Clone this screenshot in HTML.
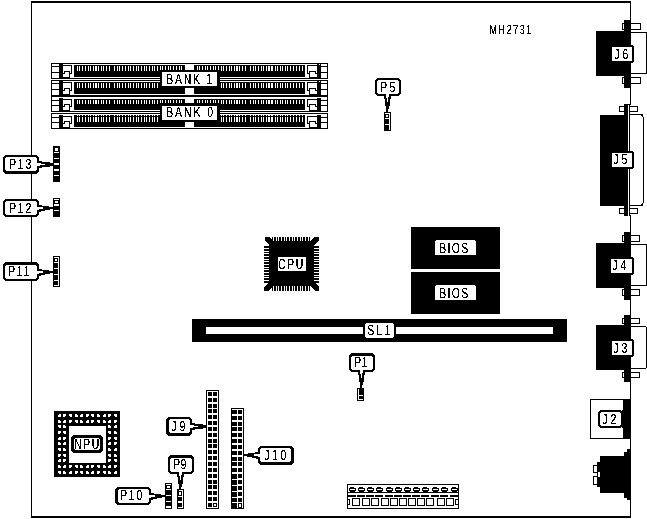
<!DOCTYPE html>
<html><head><meta charset="utf-8"><title>MH2731</title>
<style>html,body{margin:0;padding:0;background:#fff}svg{display:block}text{font-family:"Liberation Sans",sans-serif;fill:#000}</style></head><body>
<svg width="647" height="519" viewBox="0 0 647 519" shape-rendering="crispEdges">
<rect width="647" height="519" fill="#fff"/>
<rect x="31" y="1" width="600" height="2" fill="#000"/>
<rect x="31" y="516" width="600" height="2" fill="#000"/>
<rect x="31" y="1" width="1" height="517" fill="#000"/>
<rect x="630" y="1" width="1" height="517" fill="#000"/>
<rect x="51" y="63" width="277" height="1" fill="#000"/>
<rect x="51" y="78" width="277" height="1" fill="#000"/>
<rect x="51" y="63" width="1" height="16" fill="#000"/>
<rect x="327" y="63" width="1" height="16" fill="#000"/>
<rect x="52" y="66" width="7" height="1" fill="#000"/>
<rect x="52" y="72" width="7" height="1" fill="#000"/>
<rect x="59" y="64" width="4" height="14" fill="#000"/>
<rect x="63" y="65" width="9" height="1" fill="#000"/>
<rect x="71" y="65" width="1" height="9" fill="#000"/>
<rect x="70" y="73" width="2" height="1" fill="#000"/>
<rect x="69" y="71" width="1" height="6" fill="#000"/>
<rect x="64" y="71" width="6" height="1" fill="#000"/>
<rect x="64" y="71" width="1" height="3" fill="#000"/>
<rect x="63" y="73" width="2" height="1" fill="#000"/>
<rect x="63" y="77" width="7" height="1" fill="#000"/>
<rect x="321" y="66" width="6" height="1" fill="#000"/>
<rect x="321" y="72" width="6" height="1" fill="#000"/>
<rect x="317" y="64" width="4" height="14" fill="#000"/>
<rect x="319" y="64" width="1" height="1" fill="#fff"/>
<rect x="307" y="65" width="10" height="1" fill="#000"/>
<rect x="307" y="65" width="1" height="9" fill="#000"/>
<rect x="307" y="73" width="2" height="1" fill="#000"/>
<rect x="309" y="71" width="1" height="6" fill="#000"/>
<rect x="309" y="71" width="7" height="1" fill="#000"/>
<rect x="315" y="71" width="1" height="3" fill="#000"/>
<rect x="315" y="73" width="2" height="1" fill="#000"/>
<rect x="309" y="77" width="8" height="1" fill="#000"/>
<rect x="74" y="65" width="231" height="12" fill="#000"/>
<rect x="77" y="66" width="1" height="5" fill="#fff"/>
<rect x="79" y="66" width="1" height="5" fill="#fff"/>
<rect x="82" y="66" width="1" height="5" fill="#fff"/>
<rect x="85" y="66" width="1" height="5" fill="#fff"/>
<rect x="88" y="66" width="1" height="5" fill="#fff"/>
<rect x="90" y="66" width="1" height="5" fill="#fff"/>
<rect x="93" y="66" width="1" height="5" fill="#fff"/>
<rect x="95" y="66" width="1" height="5" fill="#fff"/>
<rect x="96" y="66" width="1" height="5" fill="#fff"/>
<rect x="98" y="66" width="1" height="5" fill="#fff"/>
<rect x="101" y="66" width="1" height="5" fill="#fff"/>
<rect x="103" y="66" width="1" height="5" fill="#fff"/>
<rect x="106" y="66" width="1" height="5" fill="#fff"/>
<rect x="109" y="66" width="1" height="5" fill="#fff"/>
<rect x="114" y="66" width="1" height="5" fill="#fff"/>
<rect x="117" y="66" width="1" height="5" fill="#fff"/>
<rect x="119" y="66" width="1" height="5" fill="#fff"/>
<rect x="122" y="66" width="1" height="5" fill="#fff"/>
<rect x="125" y="66" width="1" height="5" fill="#fff"/>
<rect x="128" y="66" width="1" height="5" fill="#fff"/>
<rect x="130" y="66" width="1" height="5" fill="#fff"/>
<rect x="133" y="66" width="1" height="5" fill="#fff"/>
<rect x="136" y="66" width="1" height="5" fill="#fff"/>
<rect x="138" y="66" width="1" height="5" fill="#fff"/>
<rect x="141" y="66" width="1" height="5" fill="#fff"/>
<rect x="144" y="66" width="1" height="5" fill="#fff"/>
<rect x="146" y="66" width="1" height="5" fill="#fff"/>
<rect x="149" y="66" width="1" height="5" fill="#fff"/>
<rect x="152" y="66" width="1" height="5" fill="#fff"/>
<rect x="154" y="66" width="1" height="5" fill="#fff"/>
<rect x="157" y="66" width="1" height="5" fill="#fff"/>
<rect x="160" y="66" width="1" height="5" fill="#fff"/>
<rect x="162" y="66" width="1" height="5" fill="#fff"/>
<rect x="165" y="66" width="1" height="5" fill="#fff"/>
<rect x="168" y="66" width="1" height="5" fill="#fff"/>
<rect x="170" y="66" width="1" height="5" fill="#fff"/>
<rect x="173" y="66" width="1" height="5" fill="#fff"/>
<rect x="176" y="66" width="1" height="5" fill="#fff"/>
<rect x="179" y="66" width="1" height="5" fill="#fff"/>
<rect x="181" y="66" width="1" height="5" fill="#fff"/>
<rect x="197" y="66" width="1" height="5" fill="#fff"/>
<rect x="199" y="66" width="1" height="5" fill="#fff"/>
<rect x="202" y="66" width="1" height="5" fill="#fff"/>
<rect x="205" y="66" width="1" height="5" fill="#fff"/>
<rect x="207" y="66" width="1" height="5" fill="#fff"/>
<rect x="210" y="66" width="1" height="5" fill="#fff"/>
<rect x="213" y="66" width="1" height="5" fill="#fff"/>
<rect x="215" y="66" width="1" height="5" fill="#fff"/>
<rect x="218" y="66" width="1" height="5" fill="#fff"/>
<rect x="221" y="66" width="1" height="5" fill="#fff"/>
<rect x="223" y="66" width="1" height="5" fill="#fff"/>
<rect x="226" y="66" width="1" height="5" fill="#fff"/>
<rect x="229" y="66" width="1" height="5" fill="#fff"/>
<rect x="231" y="66" width="1" height="5" fill="#fff"/>
<rect x="234" y="66" width="1" height="5" fill="#fff"/>
<rect x="236" y="66" width="1" height="5" fill="#fff"/>
<rect x="237" y="66" width="1" height="5" fill="#fff"/>
<rect x="239" y="66" width="1" height="5" fill="#fff"/>
<rect x="242" y="66" width="1" height="5" fill="#fff"/>
<rect x="245" y="66" width="1" height="5" fill="#fff"/>
<rect x="250" y="66" width="1" height="5" fill="#fff"/>
<rect x="253" y="66" width="1" height="5" fill="#fff"/>
<rect x="255" y="66" width="1" height="5" fill="#fff"/>
<rect x="258" y="66" width="1" height="5" fill="#fff"/>
<rect x="261" y="66" width="1" height="5" fill="#fff"/>
<rect x="263" y="66" width="1" height="5" fill="#fff"/>
<rect x="266" y="66" width="1" height="5" fill="#fff"/>
<rect x="268" y="66" width="1" height="5" fill="#fff"/>
<rect x="269" y="66" width="1" height="5" fill="#fff"/>
<rect x="271" y="66" width="1" height="5" fill="#fff"/>
<rect x="272" y="66" width="1" height="5" fill="#fff"/>
<rect x="275" y="66" width="1" height="5" fill="#fff"/>
<rect x="277" y="66" width="1" height="5" fill="#fff"/>
<rect x="280" y="66" width="1" height="5" fill="#fff"/>
<rect x="282" y="66" width="1" height="5" fill="#fff"/>
<rect x="285" y="66" width="1" height="5" fill="#fff"/>
<rect x="287" y="66" width="1" height="5" fill="#fff"/>
<rect x="290" y="66" width="1" height="5" fill="#fff"/>
<rect x="293" y="66" width="1" height="5" fill="#fff"/>
<rect x="296" y="66" width="1" height="5" fill="#fff"/>
<rect x="299" y="66" width="1" height="5" fill="#fff"/>
<rect x="302" y="66" width="1" height="5" fill="#fff"/>
<rect x="185" y="64" width="9" height="6" fill="#fff"/>
<rect x="51" y="80" width="277" height="1" fill="#000"/>
<rect x="51" y="95" width="277" height="1" fill="#000"/>
<rect x="51" y="80" width="1" height="16" fill="#000"/>
<rect x="327" y="80" width="1" height="16" fill="#000"/>
<rect x="52" y="83" width="7" height="1" fill="#000"/>
<rect x="52" y="89" width="7" height="1" fill="#000"/>
<rect x="59" y="81" width="4" height="14" fill="#000"/>
<rect x="63" y="82" width="9" height="1" fill="#000"/>
<rect x="71" y="82" width="1" height="9" fill="#000"/>
<rect x="70" y="90" width="2" height="1" fill="#000"/>
<rect x="69" y="88" width="1" height="6" fill="#000"/>
<rect x="64" y="88" width="6" height="1" fill="#000"/>
<rect x="64" y="88" width="1" height="3" fill="#000"/>
<rect x="63" y="90" width="2" height="1" fill="#000"/>
<rect x="63" y="94" width="7" height="1" fill="#000"/>
<rect x="321" y="83" width="6" height="1" fill="#000"/>
<rect x="321" y="89" width="6" height="1" fill="#000"/>
<rect x="317" y="81" width="4" height="14" fill="#000"/>
<rect x="319" y="81" width="1" height="1" fill="#fff"/>
<rect x="307" y="82" width="10" height="1" fill="#000"/>
<rect x="307" y="82" width="1" height="9" fill="#000"/>
<rect x="307" y="90" width="2" height="1" fill="#000"/>
<rect x="309" y="88" width="1" height="6" fill="#000"/>
<rect x="309" y="88" width="7" height="1" fill="#000"/>
<rect x="315" y="88" width="1" height="3" fill="#000"/>
<rect x="315" y="90" width="2" height="1" fill="#000"/>
<rect x="309" y="94" width="8" height="1" fill="#000"/>
<rect x="74" y="82" width="231" height="12" fill="#000"/>
<rect x="77" y="83" width="1" height="5" fill="#fff"/>
<rect x="79" y="83" width="1" height="5" fill="#fff"/>
<rect x="82" y="83" width="1" height="5" fill="#fff"/>
<rect x="85" y="83" width="1" height="5" fill="#fff"/>
<rect x="88" y="83" width="1" height="5" fill="#fff"/>
<rect x="90" y="83" width="1" height="5" fill="#fff"/>
<rect x="93" y="83" width="1" height="5" fill="#fff"/>
<rect x="95" y="83" width="1" height="5" fill="#fff"/>
<rect x="96" y="83" width="1" height="5" fill="#fff"/>
<rect x="98" y="83" width="1" height="5" fill="#fff"/>
<rect x="101" y="83" width="1" height="5" fill="#fff"/>
<rect x="103" y="83" width="1" height="5" fill="#fff"/>
<rect x="106" y="83" width="1" height="5" fill="#fff"/>
<rect x="109" y="83" width="1" height="5" fill="#fff"/>
<rect x="114" y="83" width="1" height="5" fill="#fff"/>
<rect x="117" y="83" width="1" height="5" fill="#fff"/>
<rect x="119" y="83" width="1" height="5" fill="#fff"/>
<rect x="122" y="83" width="1" height="5" fill="#fff"/>
<rect x="125" y="83" width="1" height="5" fill="#fff"/>
<rect x="128" y="83" width="1" height="5" fill="#fff"/>
<rect x="130" y="83" width="1" height="5" fill="#fff"/>
<rect x="133" y="83" width="1" height="5" fill="#fff"/>
<rect x="136" y="83" width="1" height="5" fill="#fff"/>
<rect x="138" y="83" width="1" height="5" fill="#fff"/>
<rect x="141" y="83" width="1" height="5" fill="#fff"/>
<rect x="144" y="83" width="1" height="5" fill="#fff"/>
<rect x="146" y="83" width="1" height="5" fill="#fff"/>
<rect x="149" y="83" width="1" height="5" fill="#fff"/>
<rect x="152" y="83" width="1" height="5" fill="#fff"/>
<rect x="154" y="83" width="1" height="5" fill="#fff"/>
<rect x="157" y="83" width="1" height="5" fill="#fff"/>
<rect x="160" y="83" width="1" height="5" fill="#fff"/>
<rect x="162" y="83" width="1" height="5" fill="#fff"/>
<rect x="165" y="83" width="1" height="5" fill="#fff"/>
<rect x="168" y="83" width="1" height="5" fill="#fff"/>
<rect x="170" y="83" width="1" height="5" fill="#fff"/>
<rect x="173" y="83" width="1" height="5" fill="#fff"/>
<rect x="176" y="83" width="1" height="5" fill="#fff"/>
<rect x="179" y="83" width="1" height="5" fill="#fff"/>
<rect x="181" y="83" width="1" height="5" fill="#fff"/>
<rect x="197" y="83" width="1" height="5" fill="#fff"/>
<rect x="199" y="83" width="1" height="5" fill="#fff"/>
<rect x="202" y="83" width="1" height="5" fill="#fff"/>
<rect x="205" y="83" width="1" height="5" fill="#fff"/>
<rect x="207" y="83" width="1" height="5" fill="#fff"/>
<rect x="210" y="83" width="1" height="5" fill="#fff"/>
<rect x="213" y="83" width="1" height="5" fill="#fff"/>
<rect x="215" y="83" width="1" height="5" fill="#fff"/>
<rect x="218" y="83" width="1" height="5" fill="#fff"/>
<rect x="221" y="83" width="1" height="5" fill="#fff"/>
<rect x="223" y="83" width="1" height="5" fill="#fff"/>
<rect x="226" y="83" width="1" height="5" fill="#fff"/>
<rect x="229" y="83" width="1" height="5" fill="#fff"/>
<rect x="231" y="83" width="1" height="5" fill="#fff"/>
<rect x="234" y="83" width="1" height="5" fill="#fff"/>
<rect x="236" y="83" width="1" height="5" fill="#fff"/>
<rect x="237" y="83" width="1" height="5" fill="#fff"/>
<rect x="239" y="83" width="1" height="5" fill="#fff"/>
<rect x="242" y="83" width="1" height="5" fill="#fff"/>
<rect x="245" y="83" width="1" height="5" fill="#fff"/>
<rect x="250" y="83" width="1" height="5" fill="#fff"/>
<rect x="253" y="83" width="1" height="5" fill="#fff"/>
<rect x="255" y="83" width="1" height="5" fill="#fff"/>
<rect x="258" y="83" width="1" height="5" fill="#fff"/>
<rect x="261" y="83" width="1" height="5" fill="#fff"/>
<rect x="263" y="83" width="1" height="5" fill="#fff"/>
<rect x="266" y="83" width="1" height="5" fill="#fff"/>
<rect x="268" y="83" width="1" height="5" fill="#fff"/>
<rect x="269" y="83" width="1" height="5" fill="#fff"/>
<rect x="271" y="83" width="1" height="5" fill="#fff"/>
<rect x="272" y="83" width="1" height="5" fill="#fff"/>
<rect x="275" y="83" width="1" height="5" fill="#fff"/>
<rect x="277" y="83" width="1" height="5" fill="#fff"/>
<rect x="280" y="83" width="1" height="5" fill="#fff"/>
<rect x="282" y="83" width="1" height="5" fill="#fff"/>
<rect x="285" y="83" width="1" height="5" fill="#fff"/>
<rect x="287" y="83" width="1" height="5" fill="#fff"/>
<rect x="290" y="83" width="1" height="5" fill="#fff"/>
<rect x="293" y="83" width="1" height="5" fill="#fff"/>
<rect x="296" y="83" width="1" height="5" fill="#fff"/>
<rect x="299" y="83" width="1" height="5" fill="#fff"/>
<rect x="302" y="83" width="1" height="5" fill="#fff"/>
<rect x="185" y="88" width="9" height="7" fill="#fff"/>
<rect x="51" y="96" width="277" height="1" fill="#000"/>
<rect x="51" y="111" width="277" height="1" fill="#000"/>
<rect x="51" y="96" width="1" height="16" fill="#000"/>
<rect x="327" y="96" width="1" height="16" fill="#000"/>
<rect x="52" y="100" width="7" height="1" fill="#000"/>
<rect x="52" y="105" width="7" height="1" fill="#000"/>
<rect x="59" y="98" width="4" height="13" fill="#000"/>
<rect x="63" y="99" width="9" height="1" fill="#000"/>
<rect x="71" y="99" width="1" height="8" fill="#000"/>
<rect x="70" y="106" width="2" height="1" fill="#000"/>
<rect x="69" y="104" width="1" height="6" fill="#000"/>
<rect x="64" y="104" width="6" height="1" fill="#000"/>
<rect x="64" y="104" width="1" height="3" fill="#000"/>
<rect x="63" y="106" width="2" height="1" fill="#000"/>
<rect x="63" y="110" width="7" height="1" fill="#000"/>
<rect x="321" y="100" width="6" height="1" fill="#000"/>
<rect x="321" y="105" width="6" height="1" fill="#000"/>
<rect x="317" y="98" width="4" height="13" fill="#000"/>
<rect x="307" y="99" width="10" height="1" fill="#000"/>
<rect x="307" y="99" width="1" height="8" fill="#000"/>
<rect x="307" y="106" width="2" height="1" fill="#000"/>
<rect x="309" y="104" width="1" height="6" fill="#000"/>
<rect x="309" y="104" width="7" height="1" fill="#000"/>
<rect x="315" y="104" width="1" height="3" fill="#000"/>
<rect x="315" y="106" width="2" height="1" fill="#000"/>
<rect x="309" y="110" width="8" height="1" fill="#000"/>
<rect x="74" y="99" width="231" height="11" fill="#000"/>
<rect x="77" y="100" width="1" height="4" fill="#fff"/>
<rect x="79" y="100" width="1" height="4" fill="#fff"/>
<rect x="82" y="100" width="1" height="4" fill="#fff"/>
<rect x="85" y="100" width="1" height="4" fill="#fff"/>
<rect x="88" y="100" width="1" height="4" fill="#fff"/>
<rect x="90" y="100" width="1" height="4" fill="#fff"/>
<rect x="93" y="100" width="1" height="4" fill="#fff"/>
<rect x="95" y="100" width="1" height="4" fill="#fff"/>
<rect x="96" y="100" width="1" height="4" fill="#fff"/>
<rect x="98" y="100" width="1" height="4" fill="#fff"/>
<rect x="101" y="100" width="1" height="4" fill="#fff"/>
<rect x="103" y="100" width="1" height="4" fill="#fff"/>
<rect x="106" y="100" width="1" height="4" fill="#fff"/>
<rect x="109" y="100" width="1" height="4" fill="#fff"/>
<rect x="114" y="100" width="1" height="4" fill="#fff"/>
<rect x="117" y="100" width="1" height="4" fill="#fff"/>
<rect x="119" y="100" width="1" height="4" fill="#fff"/>
<rect x="122" y="100" width="1" height="4" fill="#fff"/>
<rect x="125" y="100" width="1" height="4" fill="#fff"/>
<rect x="128" y="100" width="1" height="4" fill="#fff"/>
<rect x="130" y="100" width="1" height="4" fill="#fff"/>
<rect x="133" y="100" width="1" height="4" fill="#fff"/>
<rect x="136" y="100" width="1" height="4" fill="#fff"/>
<rect x="138" y="100" width="1" height="4" fill="#fff"/>
<rect x="141" y="100" width="1" height="4" fill="#fff"/>
<rect x="144" y="100" width="1" height="4" fill="#fff"/>
<rect x="146" y="100" width="1" height="4" fill="#fff"/>
<rect x="149" y="100" width="1" height="4" fill="#fff"/>
<rect x="152" y="100" width="1" height="4" fill="#fff"/>
<rect x="154" y="100" width="1" height="4" fill="#fff"/>
<rect x="157" y="100" width="1" height="4" fill="#fff"/>
<rect x="160" y="100" width="1" height="4" fill="#fff"/>
<rect x="162" y="100" width="1" height="4" fill="#fff"/>
<rect x="165" y="100" width="1" height="4" fill="#fff"/>
<rect x="168" y="100" width="1" height="4" fill="#fff"/>
<rect x="170" y="100" width="1" height="4" fill="#fff"/>
<rect x="173" y="100" width="1" height="4" fill="#fff"/>
<rect x="176" y="100" width="1" height="4" fill="#fff"/>
<rect x="179" y="100" width="1" height="4" fill="#fff"/>
<rect x="181" y="100" width="1" height="4" fill="#fff"/>
<rect x="197" y="100" width="1" height="4" fill="#fff"/>
<rect x="199" y="100" width="1" height="4" fill="#fff"/>
<rect x="202" y="100" width="1" height="4" fill="#fff"/>
<rect x="205" y="100" width="1" height="4" fill="#fff"/>
<rect x="207" y="100" width="1" height="4" fill="#fff"/>
<rect x="210" y="100" width="1" height="4" fill="#fff"/>
<rect x="213" y="100" width="1" height="4" fill="#fff"/>
<rect x="215" y="100" width="1" height="4" fill="#fff"/>
<rect x="218" y="100" width="1" height="4" fill="#fff"/>
<rect x="221" y="100" width="1" height="4" fill="#fff"/>
<rect x="223" y="100" width="1" height="4" fill="#fff"/>
<rect x="226" y="100" width="1" height="4" fill="#fff"/>
<rect x="229" y="100" width="1" height="4" fill="#fff"/>
<rect x="231" y="100" width="1" height="4" fill="#fff"/>
<rect x="234" y="100" width="1" height="4" fill="#fff"/>
<rect x="236" y="100" width="1" height="4" fill="#fff"/>
<rect x="237" y="100" width="1" height="4" fill="#fff"/>
<rect x="239" y="100" width="1" height="4" fill="#fff"/>
<rect x="242" y="100" width="1" height="4" fill="#fff"/>
<rect x="245" y="100" width="1" height="4" fill="#fff"/>
<rect x="250" y="100" width="1" height="4" fill="#fff"/>
<rect x="253" y="100" width="1" height="4" fill="#fff"/>
<rect x="255" y="100" width="1" height="4" fill="#fff"/>
<rect x="258" y="100" width="1" height="4" fill="#fff"/>
<rect x="261" y="100" width="1" height="4" fill="#fff"/>
<rect x="263" y="100" width="1" height="4" fill="#fff"/>
<rect x="266" y="100" width="1" height="4" fill="#fff"/>
<rect x="268" y="100" width="1" height="4" fill="#fff"/>
<rect x="269" y="100" width="1" height="4" fill="#fff"/>
<rect x="271" y="100" width="1" height="4" fill="#fff"/>
<rect x="272" y="100" width="1" height="4" fill="#fff"/>
<rect x="275" y="100" width="1" height="4" fill="#fff"/>
<rect x="277" y="100" width="1" height="4" fill="#fff"/>
<rect x="280" y="100" width="1" height="4" fill="#fff"/>
<rect x="282" y="100" width="1" height="4" fill="#fff"/>
<rect x="285" y="100" width="1" height="4" fill="#fff"/>
<rect x="287" y="100" width="1" height="4" fill="#fff"/>
<rect x="290" y="100" width="1" height="4" fill="#fff"/>
<rect x="293" y="100" width="1" height="4" fill="#fff"/>
<rect x="296" y="100" width="1" height="4" fill="#fff"/>
<rect x="299" y="100" width="1" height="4" fill="#fff"/>
<rect x="302" y="100" width="1" height="4" fill="#fff"/>
<rect x="185" y="97" width="9" height="6" fill="#fff"/>
<rect x="51" y="113" width="277" height="1" fill="#000"/>
<rect x="51" y="128" width="277" height="1" fill="#000"/>
<rect x="51" y="113" width="1" height="16" fill="#000"/>
<rect x="327" y="113" width="1" height="16" fill="#000"/>
<rect x="52" y="117" width="7" height="1" fill="#000"/>
<rect x="52" y="122" width="7" height="1" fill="#000"/>
<rect x="59" y="115" width="4" height="13" fill="#000"/>
<rect x="63" y="116" width="9" height="1" fill="#000"/>
<rect x="71" y="116" width="1" height="8" fill="#000"/>
<rect x="70" y="123" width="2" height="1" fill="#000"/>
<rect x="69" y="121" width="1" height="6" fill="#000"/>
<rect x="64" y="121" width="6" height="1" fill="#000"/>
<rect x="64" y="121" width="1" height="3" fill="#000"/>
<rect x="63" y="123" width="2" height="1" fill="#000"/>
<rect x="63" y="127" width="7" height="1" fill="#000"/>
<rect x="321" y="117" width="6" height="1" fill="#000"/>
<rect x="321" y="122" width="6" height="1" fill="#000"/>
<rect x="317" y="115" width="4" height="13" fill="#000"/>
<rect x="307" y="116" width="10" height="1" fill="#000"/>
<rect x="307" y="116" width="1" height="8" fill="#000"/>
<rect x="307" y="123" width="2" height="1" fill="#000"/>
<rect x="309" y="121" width="1" height="6" fill="#000"/>
<rect x="309" y="121" width="7" height="1" fill="#000"/>
<rect x="315" y="121" width="1" height="3" fill="#000"/>
<rect x="315" y="123" width="2" height="1" fill="#000"/>
<rect x="309" y="127" width="8" height="1" fill="#000"/>
<rect x="74" y="115" width="231" height="12" fill="#000"/>
<rect x="77" y="117" width="1" height="5" fill="#fff"/>
<rect x="77" y="115" width="1" height="1" fill="#fff"/>
<rect x="79" y="117" width="1" height="5" fill="#fff"/>
<rect x="79" y="115" width="1" height="1" fill="#fff"/>
<rect x="82" y="117" width="1" height="5" fill="#fff"/>
<rect x="82" y="115" width="1" height="1" fill="#fff"/>
<rect x="85" y="117" width="1" height="5" fill="#fff"/>
<rect x="85" y="115" width="1" height="1" fill="#fff"/>
<rect x="88" y="117" width="1" height="5" fill="#fff"/>
<rect x="88" y="115" width="1" height="1" fill="#fff"/>
<rect x="90" y="117" width="1" height="5" fill="#fff"/>
<rect x="90" y="115" width="1" height="1" fill="#fff"/>
<rect x="93" y="117" width="1" height="5" fill="#fff"/>
<rect x="93" y="115" width="1" height="1" fill="#fff"/>
<rect x="95" y="117" width="1" height="5" fill="#fff"/>
<rect x="95" y="115" width="1" height="1" fill="#fff"/>
<rect x="96" y="117" width="1" height="5" fill="#fff"/>
<rect x="96" y="115" width="1" height="1" fill="#fff"/>
<rect x="98" y="117" width="1" height="5" fill="#fff"/>
<rect x="98" y="115" width="1" height="1" fill="#fff"/>
<rect x="101" y="117" width="1" height="5" fill="#fff"/>
<rect x="101" y="115" width="1" height="1" fill="#fff"/>
<rect x="103" y="117" width="1" height="5" fill="#fff"/>
<rect x="103" y="115" width="1" height="1" fill="#fff"/>
<rect x="106" y="117" width="1" height="5" fill="#fff"/>
<rect x="106" y="115" width="1" height="1" fill="#fff"/>
<rect x="109" y="117" width="1" height="5" fill="#fff"/>
<rect x="109" y="115" width="1" height="1" fill="#fff"/>
<rect x="114" y="117" width="1" height="5" fill="#fff"/>
<rect x="114" y="115" width="1" height="1" fill="#fff"/>
<rect x="117" y="117" width="1" height="5" fill="#fff"/>
<rect x="117" y="115" width="1" height="1" fill="#fff"/>
<rect x="119" y="117" width="1" height="5" fill="#fff"/>
<rect x="119" y="115" width="1" height="1" fill="#fff"/>
<rect x="122" y="117" width="1" height="5" fill="#fff"/>
<rect x="122" y="115" width="1" height="1" fill="#fff"/>
<rect x="125" y="117" width="1" height="5" fill="#fff"/>
<rect x="125" y="115" width="1" height="1" fill="#fff"/>
<rect x="128" y="117" width="1" height="5" fill="#fff"/>
<rect x="128" y="115" width="1" height="1" fill="#fff"/>
<rect x="130" y="117" width="1" height="5" fill="#fff"/>
<rect x="130" y="115" width="1" height="1" fill="#fff"/>
<rect x="133" y="117" width="1" height="5" fill="#fff"/>
<rect x="133" y="115" width="1" height="1" fill="#fff"/>
<rect x="136" y="117" width="1" height="5" fill="#fff"/>
<rect x="136" y="115" width="1" height="1" fill="#fff"/>
<rect x="138" y="117" width="1" height="5" fill="#fff"/>
<rect x="138" y="115" width="1" height="1" fill="#fff"/>
<rect x="141" y="117" width="1" height="5" fill="#fff"/>
<rect x="141" y="115" width="1" height="1" fill="#fff"/>
<rect x="144" y="117" width="1" height="5" fill="#fff"/>
<rect x="144" y="115" width="1" height="1" fill="#fff"/>
<rect x="146" y="117" width="1" height="5" fill="#fff"/>
<rect x="146" y="115" width="1" height="1" fill="#fff"/>
<rect x="149" y="117" width="1" height="5" fill="#fff"/>
<rect x="149" y="115" width="1" height="1" fill="#fff"/>
<rect x="152" y="117" width="1" height="5" fill="#fff"/>
<rect x="152" y="115" width="1" height="1" fill="#fff"/>
<rect x="154" y="117" width="1" height="5" fill="#fff"/>
<rect x="154" y="115" width="1" height="1" fill="#fff"/>
<rect x="157" y="117" width="1" height="5" fill="#fff"/>
<rect x="157" y="115" width="1" height="1" fill="#fff"/>
<rect x="160" y="117" width="1" height="5" fill="#fff"/>
<rect x="160" y="115" width="1" height="1" fill="#fff"/>
<rect x="162" y="117" width="1" height="5" fill="#fff"/>
<rect x="162" y="115" width="1" height="1" fill="#fff"/>
<rect x="165" y="117" width="1" height="5" fill="#fff"/>
<rect x="165" y="115" width="1" height="1" fill="#fff"/>
<rect x="168" y="117" width="1" height="5" fill="#fff"/>
<rect x="168" y="115" width="1" height="1" fill="#fff"/>
<rect x="170" y="117" width="1" height="5" fill="#fff"/>
<rect x="170" y="115" width="1" height="1" fill="#fff"/>
<rect x="173" y="117" width="1" height="5" fill="#fff"/>
<rect x="173" y="115" width="1" height="1" fill="#fff"/>
<rect x="176" y="117" width="1" height="5" fill="#fff"/>
<rect x="176" y="115" width="1" height="1" fill="#fff"/>
<rect x="179" y="117" width="1" height="5" fill="#fff"/>
<rect x="179" y="115" width="1" height="1" fill="#fff"/>
<rect x="181" y="117" width="1" height="5" fill="#fff"/>
<rect x="181" y="115" width="1" height="1" fill="#fff"/>
<rect x="197" y="117" width="1" height="5" fill="#fff"/>
<rect x="197" y="115" width="1" height="1" fill="#fff"/>
<rect x="199" y="117" width="1" height="5" fill="#fff"/>
<rect x="199" y="115" width="1" height="1" fill="#fff"/>
<rect x="202" y="117" width="1" height="5" fill="#fff"/>
<rect x="202" y="115" width="1" height="1" fill="#fff"/>
<rect x="205" y="117" width="1" height="5" fill="#fff"/>
<rect x="205" y="115" width="1" height="1" fill="#fff"/>
<rect x="207" y="117" width="1" height="5" fill="#fff"/>
<rect x="207" y="115" width="1" height="1" fill="#fff"/>
<rect x="210" y="117" width="1" height="5" fill="#fff"/>
<rect x="210" y="115" width="1" height="1" fill="#fff"/>
<rect x="213" y="117" width="1" height="5" fill="#fff"/>
<rect x="213" y="115" width="1" height="1" fill="#fff"/>
<rect x="215" y="117" width="1" height="5" fill="#fff"/>
<rect x="215" y="115" width="1" height="1" fill="#fff"/>
<rect x="218" y="117" width="1" height="5" fill="#fff"/>
<rect x="218" y="115" width="1" height="1" fill="#fff"/>
<rect x="221" y="117" width="1" height="5" fill="#fff"/>
<rect x="221" y="115" width="1" height="1" fill="#fff"/>
<rect x="223" y="117" width="1" height="5" fill="#fff"/>
<rect x="223" y="115" width="1" height="1" fill="#fff"/>
<rect x="226" y="117" width="1" height="5" fill="#fff"/>
<rect x="226" y="115" width="1" height="1" fill="#fff"/>
<rect x="229" y="117" width="1" height="5" fill="#fff"/>
<rect x="229" y="115" width="1" height="1" fill="#fff"/>
<rect x="231" y="117" width="1" height="5" fill="#fff"/>
<rect x="231" y="115" width="1" height="1" fill="#fff"/>
<rect x="234" y="117" width="1" height="5" fill="#fff"/>
<rect x="234" y="115" width="1" height="1" fill="#fff"/>
<rect x="236" y="117" width="1" height="5" fill="#fff"/>
<rect x="236" y="115" width="1" height="1" fill="#fff"/>
<rect x="237" y="117" width="1" height="5" fill="#fff"/>
<rect x="237" y="115" width="1" height="1" fill="#fff"/>
<rect x="239" y="117" width="1" height="5" fill="#fff"/>
<rect x="239" y="115" width="1" height="1" fill="#fff"/>
<rect x="242" y="117" width="1" height="5" fill="#fff"/>
<rect x="242" y="115" width="1" height="1" fill="#fff"/>
<rect x="245" y="117" width="1" height="5" fill="#fff"/>
<rect x="245" y="115" width="1" height="1" fill="#fff"/>
<rect x="250" y="117" width="1" height="5" fill="#fff"/>
<rect x="250" y="115" width="1" height="1" fill="#fff"/>
<rect x="253" y="117" width="1" height="5" fill="#fff"/>
<rect x="253" y="115" width="1" height="1" fill="#fff"/>
<rect x="255" y="117" width="1" height="5" fill="#fff"/>
<rect x="255" y="115" width="1" height="1" fill="#fff"/>
<rect x="258" y="117" width="1" height="5" fill="#fff"/>
<rect x="258" y="115" width="1" height="1" fill="#fff"/>
<rect x="261" y="117" width="1" height="5" fill="#fff"/>
<rect x="261" y="115" width="1" height="1" fill="#fff"/>
<rect x="263" y="117" width="1" height="5" fill="#fff"/>
<rect x="263" y="115" width="1" height="1" fill="#fff"/>
<rect x="266" y="117" width="1" height="5" fill="#fff"/>
<rect x="266" y="115" width="1" height="1" fill="#fff"/>
<rect x="268" y="117" width="1" height="5" fill="#fff"/>
<rect x="268" y="115" width="1" height="1" fill="#fff"/>
<rect x="269" y="117" width="1" height="5" fill="#fff"/>
<rect x="269" y="115" width="1" height="1" fill="#fff"/>
<rect x="271" y="117" width="1" height="5" fill="#fff"/>
<rect x="271" y="115" width="1" height="1" fill="#fff"/>
<rect x="272" y="117" width="1" height="5" fill="#fff"/>
<rect x="272" y="115" width="1" height="1" fill="#fff"/>
<rect x="275" y="117" width="1" height="5" fill="#fff"/>
<rect x="275" y="115" width="1" height="1" fill="#fff"/>
<rect x="277" y="117" width="1" height="5" fill="#fff"/>
<rect x="277" y="115" width="1" height="1" fill="#fff"/>
<rect x="280" y="117" width="1" height="5" fill="#fff"/>
<rect x="280" y="115" width="1" height="1" fill="#fff"/>
<rect x="282" y="117" width="1" height="5" fill="#fff"/>
<rect x="282" y="115" width="1" height="1" fill="#fff"/>
<rect x="285" y="117" width="1" height="5" fill="#fff"/>
<rect x="285" y="115" width="1" height="1" fill="#fff"/>
<rect x="287" y="117" width="1" height="5" fill="#fff"/>
<rect x="287" y="115" width="1" height="1" fill="#fff"/>
<rect x="290" y="117" width="1" height="5" fill="#fff"/>
<rect x="290" y="115" width="1" height="1" fill="#fff"/>
<rect x="293" y="117" width="1" height="5" fill="#fff"/>
<rect x="293" y="115" width="1" height="1" fill="#fff"/>
<rect x="296" y="117" width="1" height="5" fill="#fff"/>
<rect x="296" y="115" width="1" height="1" fill="#fff"/>
<rect x="299" y="117" width="1" height="5" fill="#fff"/>
<rect x="299" y="115" width="1" height="1" fill="#fff"/>
<rect x="302" y="117" width="1" height="5" fill="#fff"/>
<rect x="302" y="115" width="1" height="1" fill="#fff"/>
<rect x="185" y="121" width="9" height="7" fill="#fff"/>
<rect x="160" y="70" width="60" height="18" fill="#000"/>
<rect x="162" y="72" width="55" height="14" fill="#fff"/>
<rect x="160" y="103" width="60" height="19" fill="#000"/>
<rect x="162" y="106" width="55" height="14" fill="#fff"/>
<rect x="3" y="155" width="36" height="19" fill="#000"/>
<rect x="5" y="157" width="32" height="14" fill="#fff"/>
<rect x="3" y="155" width="2" height="1" fill="#fff"/>
<rect x="3" y="155" width="1" height="2" fill="#fff"/>
<rect x="37" y="155" width="2" height="1" fill="#fff"/>
<rect x="38" y="155" width="1" height="2" fill="#fff"/>
<rect x="3" y="173" width="2" height="1" fill="#fff"/>
<rect x="3" y="172" width="1" height="2" fill="#fff"/>
<rect x="37" y="173" width="2" height="1" fill="#fff"/>
<rect x="38" y="172" width="1" height="2" fill="#fff"/>
<rect x="5" y="157" width="1" height="1" fill="#000"/>
<rect x="36" y="157" width="1" height="1" fill="#000"/>
<rect x="5" y="170" width="1" height="1" fill="#000"/>
<rect x="36" y="170" width="1" height="1" fill="#000"/>
<rect x="37" y="161" width="5" height="1" fill="#000"/>
<rect x="37" y="162" width="13" height="1" fill="#000"/>
<rect x="37" y="163" width="4" height="1" fill="#fff"/>
<rect x="41" y="163" width="12" height="1" fill="#000"/>
<rect x="37" y="164" width="8" height="1" fill="#fff"/>
<rect x="45" y="164" width="8" height="1" fill="#000"/>
<rect x="37" y="165" width="3" height="1" fill="#fff"/>
<rect x="40" y="165" width="13" height="1" fill="#000"/>
<rect x="37" y="166" width="13" height="1" fill="#000"/>
<rect x="37" y="167" width="5" height="1" fill="#000"/>
<rect x="53" y="146" width="7" height="36" fill="#000"/>
<rect x="55" y="148" width="3" height="3" fill="#fff"/>
<rect x="54" y="152" width="5" height="1" fill="#fff"/>
<rect x="54" y="158" width="5" height="1" fill="#fff"/>
<rect x="54" y="163" width="5" height="2" fill="#fff"/>
<rect x="54" y="169" width="5" height="2" fill="#fff"/>
<rect x="54" y="175" width="5" height="1" fill="#fff"/>
<rect x="3" y="199" width="36" height="18" fill="#000"/>
<rect x="5" y="201" width="32" height="14" fill="#fff"/>
<rect x="3" y="199" width="2" height="1" fill="#fff"/>
<rect x="3" y="199" width="1" height="2" fill="#fff"/>
<rect x="37" y="199" width="2" height="1" fill="#fff"/>
<rect x="38" y="199" width="1" height="2" fill="#fff"/>
<rect x="3" y="216" width="2" height="1" fill="#fff"/>
<rect x="3" y="215" width="1" height="2" fill="#fff"/>
<rect x="37" y="216" width="2" height="1" fill="#fff"/>
<rect x="38" y="215" width="1" height="2" fill="#fff"/>
<rect x="5" y="201" width="1" height="1" fill="#000"/>
<rect x="36" y="201" width="1" height="1" fill="#000"/>
<rect x="5" y="214" width="1" height="1" fill="#000"/>
<rect x="36" y="214" width="1" height="1" fill="#000"/>
<rect x="37" y="205" width="5" height="1" fill="#000"/>
<rect x="37" y="206" width="12" height="1" fill="#000"/>
<rect x="37" y="207" width="6" height="1" fill="#fff"/>
<rect x="43" y="207" width="10" height="1" fill="#000"/>
<rect x="37" y="208" width="6" height="1" fill="#fff"/>
<rect x="43" y="208" width="10" height="1" fill="#000"/>
<rect x="37" y="209" width="2" height="1" fill="#fff"/>
<rect x="39" y="209" width="11" height="1" fill="#000"/>
<rect x="37" y="210" width="8" height="1" fill="#000"/>
<rect x="37" y="211" width="4" height="1" fill="#000"/>
<rect x="53" y="198" width="7" height="19" fill="#000"/>
<rect x="54" y="199" width="5" height="1" fill="#fff"/>
<rect x="55" y="201" width="3" height="2" fill="#fff"/>
<rect x="54" y="204" width="5" height="2" fill="#fff"/>
<rect x="54" y="210" width="5" height="1" fill="#fff"/>
<rect x="3" y="262" width="36" height="19" fill="#000"/>
<rect x="5" y="265" width="32" height="14" fill="#fff"/>
<rect x="3" y="262" width="2" height="1" fill="#fff"/>
<rect x="3" y="262" width="1" height="2" fill="#fff"/>
<rect x="37" y="262" width="2" height="1" fill="#fff"/>
<rect x="38" y="262" width="1" height="2" fill="#fff"/>
<rect x="3" y="280" width="2" height="1" fill="#fff"/>
<rect x="3" y="279" width="1" height="2" fill="#fff"/>
<rect x="37" y="280" width="2" height="1" fill="#fff"/>
<rect x="38" y="279" width="1" height="2" fill="#fff"/>
<rect x="5" y="265" width="1" height="1" fill="#000"/>
<rect x="36" y="265" width="1" height="1" fill="#000"/>
<rect x="5" y="278" width="1" height="1" fill="#000"/>
<rect x="36" y="278" width="1" height="1" fill="#000"/>
<rect x="37" y="269" width="5" height="1" fill="#000"/>
<rect x="37" y="270" width="12" height="1" fill="#000"/>
<rect x="37" y="271" width="6" height="1" fill="#fff"/>
<rect x="43" y="271" width="10" height="1" fill="#000"/>
<rect x="37" y="272" width="6" height="1" fill="#fff"/>
<rect x="43" y="272" width="10" height="1" fill="#000"/>
<rect x="37" y="273" width="2" height="1" fill="#fff"/>
<rect x="39" y="273" width="11" height="1" fill="#000"/>
<rect x="37" y="274" width="8" height="1" fill="#000"/>
<rect x="37" y="275" width="4" height="1" fill="#000"/>
<rect x="53" y="256" width="7" height="1" fill="#000"/>
<rect x="53" y="286" width="7" height="1" fill="#000"/>
<rect x="53" y="256" width="1" height="31" fill="#000"/>
<rect x="59" y="256" width="1" height="31" fill="#000"/>
<rect x="54" y="258" width="4" height="4" fill="#000"/>
<rect x="55" y="259" width="2" height="2" fill="#fff"/>
<rect x="54" y="263" width="4" height="5" fill="#000"/>
<rect x="54" y="269" width="4" height="5" fill="#000"/>
<rect x="54" y="275" width="4" height="5" fill="#000"/>
<rect x="54" y="281" width="4" height="4" fill="#000"/>
<rect x="375" y="78" width="26" height="18" fill="#000"/>
<rect x="377" y="80" width="22" height="14" fill="#fff"/>
<rect x="375" y="78" width="2" height="1" fill="#fff"/>
<rect x="375" y="78" width="1" height="2" fill="#fff"/>
<rect x="399" y="78" width="2" height="1" fill="#fff"/>
<rect x="400" y="78" width="1" height="2" fill="#fff"/>
<rect x="375" y="95" width="2" height="1" fill="#fff"/>
<rect x="375" y="94" width="1" height="2" fill="#fff"/>
<rect x="399" y="95" width="2" height="1" fill="#fff"/>
<rect x="400" y="94" width="1" height="2" fill="#fff"/>
<rect x="377" y="80" width="1" height="1" fill="#000"/>
<rect x="398" y="80" width="1" height="1" fill="#000"/>
<rect x="377" y="93" width="1" height="1" fill="#000"/>
<rect x="398" y="93" width="1" height="1" fill="#000"/>
<rect x="384" y="94" width="1" height="5" fill="#000"/>
<rect x="385" y="94" width="1" height="12" fill="#000"/>
<rect x="386" y="94" width="1" height="4" fill="#fff"/>
<rect x="386" y="98" width="1" height="14" fill="#000"/>
<rect x="387" y="94" width="1" height="8" fill="#fff"/>
<rect x="387" y="102" width="1" height="10" fill="#000"/>
<rect x="388" y="94" width="1" height="3" fill="#fff"/>
<rect x="388" y="97" width="1" height="12" fill="#000"/>
<rect x="389" y="94" width="1" height="12" fill="#000"/>
<rect x="390" y="94" width="1" height="5" fill="#000"/>
<rect x="384" y="112" width="7" height="1" fill="#000"/>
<rect x="384" y="130" width="7" height="1" fill="#000"/>
<rect x="384" y="112" width="1" height="19" fill="#000"/>
<rect x="390" y="112" width="1" height="19" fill="#000"/>
<rect x="385" y="114" width="4" height="4" fill="#000"/>
<rect x="386" y="115" width="2" height="2" fill="#fff"/>
<rect x="385" y="119" width="4" height="5" fill="#000"/>
<rect x="385" y="125" width="4" height="5" fill="#000"/>
<rect x="596" y="31" width="35" height="45" fill="#000"/>
<rect x="624" y="20" width="7" height="11" fill="#000"/>
<rect x="624" y="76" width="7" height="12" fill="#000"/>
<rect x="622" y="23" width="19" height="1" fill="#000"/>
<rect x="622" y="29" width="19" height="1" fill="#000"/>
<rect x="622" y="23" width="1" height="7" fill="#000"/>
<rect x="640" y="23" width="1" height="7" fill="#000"/>
<rect x="623" y="24" width="1" height="5" fill="#fff"/>
<rect x="624" y="23" width="7" height="7" fill="#000"/>
<rect x="622" y="77" width="19" height="1" fill="#000"/>
<rect x="622" y="83" width="19" height="1" fill="#000"/>
<rect x="622" y="77" width="1" height="7" fill="#000"/>
<rect x="640" y="77" width="1" height="7" fill="#000"/>
<rect x="623" y="78" width="1" height="5" fill="#fff"/>
<rect x="624" y="77" width="7" height="7" fill="#000"/>
<rect x="631" y="32" width="16" height="1" fill="#000"/>
<rect x="631" y="73" width="16" height="1" fill="#000"/>
<rect x="646" y="32" width="1" height="42" fill="#000"/>
<rect x="610" y="45" width="24" height="18" fill="#000"/>
<rect x="612" y="47" width="20" height="14" fill="#fff"/>
<rect x="633" y="45" width="1" height="1" fill="#fff"/>
<rect x="633" y="62" width="1" height="1" fill="#fff"/>
<rect x="596" y="243" width="35" height="45" fill="#000"/>
<rect x="624" y="232" width="7" height="11" fill="#000"/>
<rect x="624" y="288" width="7" height="12" fill="#000"/>
<rect x="622" y="235" width="18" height="1" fill="#000"/>
<rect x="622" y="241" width="18" height="1" fill="#000"/>
<rect x="622" y="235" width="1" height="7" fill="#000"/>
<rect x="639" y="235" width="1" height="7" fill="#000"/>
<rect x="623" y="236" width="1" height="5" fill="#fff"/>
<rect x="624" y="235" width="7" height="7" fill="#000"/>
<rect x="622" y="289" width="18" height="1" fill="#000"/>
<rect x="622" y="295" width="18" height="1" fill="#000"/>
<rect x="622" y="289" width="1" height="7" fill="#000"/>
<rect x="639" y="289" width="1" height="7" fill="#000"/>
<rect x="623" y="290" width="1" height="5" fill="#fff"/>
<rect x="624" y="289" width="7" height="7" fill="#000"/>
<rect x="631" y="244" width="16" height="1" fill="#000"/>
<rect x="631" y="285" width="16" height="1" fill="#000"/>
<rect x="646" y="244" width="1" height="42" fill="#000"/>
<rect x="610" y="257" width="24" height="18" fill="#000"/>
<rect x="612" y="259" width="20" height="14" fill="#fff"/>
<rect x="633" y="257" width="1" height="1" fill="#fff"/>
<rect x="633" y="274" width="1" height="1" fill="#fff"/>
<rect x="611" y="259" width="1" height="14" fill="#fff"/>
<rect x="596" y="325" width="35" height="45" fill="#000"/>
<rect x="624" y="315" width="7" height="10" fill="#000"/>
<rect x="624" y="370" width="7" height="12" fill="#000"/>
<rect x="622" y="318" width="18" height="1" fill="#000"/>
<rect x="622" y="323" width="18" height="1" fill="#000"/>
<rect x="622" y="318" width="1" height="6" fill="#000"/>
<rect x="639" y="318" width="1" height="6" fill="#000"/>
<rect x="623" y="319" width="1" height="4" fill="#fff"/>
<rect x="624" y="318" width="7" height="6" fill="#000"/>
<rect x="622" y="372" width="18" height="1" fill="#000"/>
<rect x="622" y="377" width="18" height="1" fill="#000"/>
<rect x="622" y="372" width="1" height="6" fill="#000"/>
<rect x="639" y="372" width="1" height="6" fill="#000"/>
<rect x="623" y="373" width="1" height="4" fill="#fff"/>
<rect x="624" y="372" width="7" height="6" fill="#000"/>
<rect x="631" y="326" width="15" height="1" fill="#000"/>
<rect x="631" y="368" width="15" height="1" fill="#000"/>
<rect x="646" y="327" width="1" height="41" fill="#000"/>
<rect x="610" y="339" width="24" height="18" fill="#000"/>
<rect x="612" y="341" width="20" height="14" fill="#fff"/>
<rect x="633" y="339" width="1" height="1" fill="#fff"/>
<rect x="633" y="356" width="1" height="1" fill="#fff"/>
<rect x="600" y="115" width="28" height="91" fill="#000"/>
<rect x="624" y="104" width="4" height="112" fill="#000"/>
<rect x="624" y="104" width="6" height="1" fill="#000"/>
<rect x="629" y="104" width="1" height="112" fill="#000"/>
<rect x="630" y="105" width="1" height="110" fill="#fff"/>
<rect x="619" y="106" width="19" height="1" fill="#000"/>
<rect x="619" y="111" width="19" height="1" fill="#000"/>
<rect x="619" y="106" width="1" height="6" fill="#000"/>
<rect x="637" y="106" width="1" height="6" fill="#000"/>
<rect x="624" y="106" width="4" height="6" fill="#000"/>
<rect x="628" y="106" width="1" height="6" fill="#fff"/>
<rect x="629" y="106" width="1" height="6" fill="#000"/>
<rect x="630" y="107" width="1" height="4" fill="#fff"/>
<rect x="619" y="208" width="19" height="1" fill="#000"/>
<rect x="619" y="213" width="19" height="1" fill="#000"/>
<rect x="619" y="208" width="1" height="6" fill="#000"/>
<rect x="637" y="208" width="1" height="6" fill="#000"/>
<rect x="624" y="208" width="4" height="6" fill="#000"/>
<rect x="628" y="208" width="1" height="6" fill="#fff"/>
<rect x="629" y="208" width="1" height="6" fill="#000"/>
<rect x="630" y="209" width="1" height="4" fill="#fff"/>
<rect x="630" y="106" width="1" height="1" fill="#000"/>
<rect x="630" y="111" width="1" height="1" fill="#000"/>
<rect x="630" y="208" width="1" height="1" fill="#000"/>
<rect x="630" y="213" width="1" height="1" fill="#000"/>
<rect x="630" y="114" width="12" height="1" fill="#000"/>
<rect x="630" y="205" width="12" height="1" fill="#000"/>
<rect x="643" y="117" width="1" height="86" fill="#000"/>
<rect x="642" y="115" width="1" height="2" fill="#000"/>
<rect x="642" y="203" width="1" height="2" fill="#000"/>
<rect x="641" y="114" width="2" height="2" fill="#000"/>
<rect x="641" y="204" width="2" height="2" fill="#000"/>
<rect x="610" y="151" width="24" height="18" fill="#000"/>
<rect x="612" y="153" width="20" height="14" fill="#fff"/>
<rect x="633" y="151" width="1" height="1" fill="#fff"/>
<rect x="633" y="168" width="1" height="1" fill="#fff"/>
<rect x="590" y="399" width="41" height="1" fill="#000"/>
<rect x="590" y="438" width="41" height="1" fill="#000"/>
<rect x="590" y="399" width="1" height="40" fill="#000"/>
<rect x="630" y="399" width="1" height="40" fill="#000"/>
<rect x="623" y="399" width="8" height="40" fill="#000"/>
<rect x="598" y="410" width="25" height="18" fill="#000"/>
<rect x="600" y="412" width="21" height="14" fill="#fff"/>
<rect x="598" y="410" width="2" height="1" fill="#fff"/>
<rect x="598" y="410" width="1" height="2" fill="#fff"/>
<rect x="621" y="410" width="2" height="1" fill="#fff"/>
<rect x="622" y="410" width="1" height="2" fill="#fff"/>
<rect x="598" y="427" width="2" height="1" fill="#fff"/>
<rect x="598" y="426" width="1" height="2" fill="#fff"/>
<rect x="621" y="427" width="2" height="1" fill="#fff"/>
<rect x="622" y="426" width="1" height="2" fill="#fff"/>
<rect x="600" y="412" width="1" height="1" fill="#000"/>
<rect x="620" y="412" width="1" height="1" fill="#000"/>
<rect x="600" y="425" width="1" height="1" fill="#000"/>
<rect x="620" y="425" width="1" height="1" fill="#000"/>
<rect x="622" y="410" width="1" height="18" fill="#000"/>
<rect x="600" y="456" width="31" height="37" fill="#000"/>
<rect x="624" y="452" width="7" height="46" fill="#000"/>
<rect x="627" y="449" width="4" height="51" fill="#000"/>
<rect x="597" y="462" width="3" height="25" fill="#000"/>
<rect x="593" y="465" width="5" height="1" fill="#000"/>
<rect x="593" y="472" width="5" height="1" fill="#000"/>
<rect x="593" y="465" width="1" height="8" fill="#000"/>
<rect x="597" y="465" width="1" height="8" fill="#000"/>
<rect x="593" y="476" width="5" height="1" fill="#000"/>
<rect x="593" y="484" width="5" height="1" fill="#000"/>
<rect x="593" y="476" width="1" height="9" fill="#000"/>
<rect x="597" y="476" width="1" height="9" fill="#000"/>
<rect x="598" y="472" width="2" height="5" fill="#fff"/>
<rect x="269" y="241" width="45" height="45" fill="#000"/>
<rect x="272" y="237" width="39" height="4" fill="#000"/>
<rect x="272" y="286" width="39" height="5" fill="#000"/>
<rect x="273" y="237" width="1" height="4" fill="#fff"/>
<rect x="273" y="286" width="1" height="5" fill="#fff"/>
<rect x="276" y="237" width="1" height="4" fill="#fff"/>
<rect x="276" y="286" width="1" height="5" fill="#fff"/>
<rect x="278" y="237" width="1" height="4" fill="#fff"/>
<rect x="278" y="286" width="1" height="5" fill="#fff"/>
<rect x="281" y="237" width="1" height="4" fill="#fff"/>
<rect x="281" y="286" width="1" height="5" fill="#fff"/>
<rect x="284" y="237" width="1" height="4" fill="#fff"/>
<rect x="284" y="286" width="1" height="5" fill="#fff"/>
<rect x="286" y="237" width="1" height="4" fill="#fff"/>
<rect x="286" y="286" width="1" height="5" fill="#fff"/>
<rect x="289" y="237" width="1" height="4" fill="#fff"/>
<rect x="289" y="286" width="1" height="5" fill="#fff"/>
<rect x="292" y="237" width="1" height="4" fill="#fff"/>
<rect x="292" y="286" width="1" height="5" fill="#fff"/>
<rect x="294" y="237" width="1" height="4" fill="#fff"/>
<rect x="294" y="286" width="1" height="5" fill="#fff"/>
<rect x="297" y="237" width="1" height="4" fill="#fff"/>
<rect x="297" y="286" width="1" height="5" fill="#fff"/>
<rect x="300" y="237" width="1" height="4" fill="#fff"/>
<rect x="300" y="286" width="1" height="5" fill="#fff"/>
<rect x="302" y="237" width="1" height="4" fill="#fff"/>
<rect x="302" y="286" width="1" height="5" fill="#fff"/>
<rect x="305" y="237" width="1" height="4" fill="#fff"/>
<rect x="305" y="286" width="1" height="5" fill="#fff"/>
<rect x="308" y="237" width="1" height="4" fill="#fff"/>
<rect x="308" y="286" width="1" height="5" fill="#fff"/>
<rect x="310" y="237" width="1" height="4" fill="#fff"/>
<rect x="310" y="286" width="1" height="5" fill="#fff"/>
<rect x="264" y="246" width="5" height="37" fill="#000"/>
<rect x="314" y="246" width="5" height="37" fill="#000"/>
<rect x="264" y="248" width="5" height="1" fill="#fff"/>
<rect x="314" y="248" width="5" height="1" fill="#fff"/>
<rect x="264" y="251" width="5" height="1" fill="#fff"/>
<rect x="314" y="251" width="5" height="1" fill="#fff"/>
<rect x="264" y="253" width="5" height="1" fill="#fff"/>
<rect x="314" y="253" width="5" height="1" fill="#fff"/>
<rect x="264" y="256" width="5" height="1" fill="#fff"/>
<rect x="314" y="256" width="5" height="1" fill="#fff"/>
<rect x="264" y="259" width="5" height="1" fill="#fff"/>
<rect x="314" y="259" width="5" height="1" fill="#fff"/>
<rect x="264" y="261" width="5" height="1" fill="#fff"/>
<rect x="314" y="261" width="5" height="1" fill="#fff"/>
<rect x="264" y="264" width="5" height="1" fill="#fff"/>
<rect x="314" y="264" width="5" height="1" fill="#fff"/>
<rect x="264" y="267" width="5" height="1" fill="#fff"/>
<rect x="314" y="267" width="5" height="1" fill="#fff"/>
<rect x="264" y="269" width="5" height="1" fill="#fff"/>
<rect x="314" y="269" width="5" height="1" fill="#fff"/>
<rect x="264" y="272" width="5" height="1" fill="#fff"/>
<rect x="314" y="272" width="5" height="1" fill="#fff"/>
<rect x="264" y="275" width="5" height="1" fill="#fff"/>
<rect x="314" y="275" width="5" height="1" fill="#fff"/>
<rect x="264" y="277" width="5" height="1" fill="#fff"/>
<rect x="314" y="277" width="5" height="1" fill="#fff"/>
<rect x="264" y="280" width="5" height="1" fill="#fff"/>
<rect x="314" y="280" width="5" height="1" fill="#fff"/>
<rect x="264" y="283" width="5" height="1" fill="#fff"/>
<rect x="314" y="283" width="5" height="1" fill="#fff"/>
<rect x="278" y="257" width="28" height="14" fill="#fff"/>
<rect x="411" y="227" width="89" height="42" fill="#000"/>
<rect x="411" y="272" width="89" height="42" fill="#000"/>
<rect x="435" y="240" width="41" height="15" fill="#fff"/>
<rect x="435" y="240" width="1" height="1" fill="#000"/>
<rect x="475" y="240" width="1" height="1" fill="#000"/>
<rect x="435" y="285" width="41" height="15" fill="#fff"/>
<rect x="435" y="285" width="1" height="1" fill="#000"/>
<rect x="475" y="285" width="1" height="1" fill="#000"/>
<rect x="192" y="319" width="375" height="23" fill="#000"/>
<rect x="206" y="327" width="347" height="7" fill="#fff"/>
<rect x="363" y="321" width="33" height="19" fill="#000"/>
<rect x="365" y="323" width="29" height="15" fill="#fff"/>
<rect x="365" y="323" width="1" height="1" fill="#000"/>
<rect x="393" y="323" width="1" height="1" fill="#000"/>
<rect x="365" y="337" width="1" height="1" fill="#000"/>
<rect x="393" y="337" width="1" height="1" fill="#000"/>
<rect x="349" y="353" width="26" height="19" fill="#000"/>
<rect x="351" y="356" width="22" height="14" fill="#fff"/>
<rect x="349" y="353" width="2" height="1" fill="#fff"/>
<rect x="349" y="353" width="1" height="2" fill="#fff"/>
<rect x="373" y="353" width="2" height="1" fill="#fff"/>
<rect x="374" y="353" width="1" height="2" fill="#fff"/>
<rect x="349" y="371" width="2" height="1" fill="#fff"/>
<rect x="349" y="370" width="1" height="2" fill="#fff"/>
<rect x="373" y="371" width="2" height="1" fill="#fff"/>
<rect x="374" y="370" width="1" height="2" fill="#fff"/>
<rect x="351" y="356" width="1" height="1" fill="#000"/>
<rect x="372" y="356" width="1" height="1" fill="#000"/>
<rect x="351" y="369" width="1" height="1" fill="#000"/>
<rect x="372" y="369" width="1" height="1" fill="#000"/>
<rect x="358" y="370" width="1" height="5" fill="#000"/>
<rect x="359" y="370" width="1" height="12" fill="#000"/>
<rect x="360" y="370" width="1" height="4" fill="#fff"/>
<rect x="360" y="374" width="1" height="14" fill="#000"/>
<rect x="361" y="370" width="1" height="8" fill="#fff"/>
<rect x="361" y="378" width="1" height="10" fill="#000"/>
<rect x="362" y="370" width="1" height="3" fill="#fff"/>
<rect x="362" y="373" width="1" height="12" fill="#000"/>
<rect x="363" y="370" width="1" height="12" fill="#000"/>
<rect x="364" y="370" width="1" height="5" fill="#000"/>
<rect x="357" y="388" width="7" height="13" fill="#000"/>
<rect x="358" y="389" width="1" height="11" fill="#fff"/>
<rect x="358" y="395" width="5" height="1" fill="#fff"/>
<rect x="358" y="399" width="5" height="1" fill="#fff"/>
<rect x="54" y="411" width="66" height="66" fill="#000"/>
<rect x="69" y="426" width="37" height="37" fill="#fff"/>
<rect x="58" y="414" width="3" height="3" fill="#fff"/>
<rect x="58" y="414" width="1" height="1" fill="#000"/>
<rect x="58" y="420" width="3" height="3" fill="#fff"/>
<rect x="60" y="420" width="1" height="1" fill="#000"/>
<rect x="58" y="425" width="3" height="3" fill="#fff"/>
<rect x="58" y="427" width="1" height="1" fill="#000"/>
<rect x="58" y="431" width="3" height="3" fill="#fff"/>
<rect x="60" y="433" width="1" height="1" fill="#000"/>
<rect x="58" y="437" width="3" height="3" fill="#fff"/>
<rect x="58" y="437" width="1" height="1" fill="#000"/>
<rect x="58" y="442" width="3" height="3" fill="#fff"/>
<rect x="60" y="442" width="1" height="1" fill="#000"/>
<rect x="58" y="448" width="3" height="3" fill="#fff"/>
<rect x="58" y="450" width="1" height="1" fill="#000"/>
<rect x="58" y="454" width="3" height="3" fill="#fff"/>
<rect x="60" y="456" width="1" height="1" fill="#000"/>
<rect x="58" y="459" width="3" height="3" fill="#fff"/>
<rect x="58" y="459" width="1" height="1" fill="#000"/>
<rect x="58" y="465" width="3" height="3" fill="#fff"/>
<rect x="60" y="465" width="1" height="1" fill="#000"/>
<rect x="58" y="471" width="3" height="3" fill="#fff"/>
<rect x="58" y="473" width="1" height="1" fill="#000"/>
<rect x="63" y="414" width="3" height="3" fill="#fff"/>
<rect x="65" y="416" width="1" height="1" fill="#000"/>
<rect x="63" y="420" width="3" height="3" fill="#fff"/>
<rect x="63" y="420" width="1" height="1" fill="#000"/>
<rect x="63" y="425" width="3" height="3" fill="#fff"/>
<rect x="65" y="425" width="1" height="1" fill="#000"/>
<rect x="63" y="431" width="3" height="3" fill="#fff"/>
<rect x="63" y="433" width="1" height="1" fill="#000"/>
<rect x="63" y="437" width="3" height="3" fill="#fff"/>
<rect x="65" y="439" width="1" height="1" fill="#000"/>
<rect x="63" y="442" width="3" height="3" fill="#fff"/>
<rect x="63" y="442" width="1" height="1" fill="#000"/>
<rect x="63" y="448" width="3" height="3" fill="#fff"/>
<rect x="65" y="448" width="1" height="1" fill="#000"/>
<rect x="63" y="454" width="3" height="3" fill="#fff"/>
<rect x="63" y="456" width="1" height="1" fill="#000"/>
<rect x="63" y="459" width="3" height="3" fill="#fff"/>
<rect x="65" y="461" width="1" height="1" fill="#000"/>
<rect x="63" y="465" width="3" height="3" fill="#fff"/>
<rect x="63" y="465" width="1" height="1" fill="#000"/>
<rect x="63" y="471" width="3" height="3" fill="#fff"/>
<rect x="65" y="471" width="1" height="1" fill="#000"/>
<rect x="69" y="414" width="3" height="3" fill="#fff"/>
<rect x="69" y="416" width="1" height="1" fill="#000"/>
<rect x="69" y="420" width="3" height="3" fill="#fff"/>
<rect x="71" y="422" width="1" height="1" fill="#000"/>
<rect x="69" y="465" width="3" height="3" fill="#fff"/>
<rect x="71" y="467" width="1" height="1" fill="#000"/>
<rect x="69" y="471" width="3" height="3" fill="#fff"/>
<rect x="69" y="471" width="1" height="1" fill="#000"/>
<rect x="75" y="414" width="3" height="3" fill="#fff"/>
<rect x="77" y="414" width="1" height="1" fill="#000"/>
<rect x="75" y="420" width="3" height="3" fill="#fff"/>
<rect x="75" y="422" width="1" height="1" fill="#000"/>
<rect x="75" y="465" width="3" height="3" fill="#fff"/>
<rect x="75" y="467" width="1" height="1" fill="#000"/>
<rect x="75" y="471" width="3" height="3" fill="#fff"/>
<rect x="77" y="473" width="1" height="1" fill="#000"/>
<rect x="80" y="414" width="3" height="3" fill="#fff"/>
<rect x="80" y="414" width="1" height="1" fill="#000"/>
<rect x="80" y="420" width="3" height="3" fill="#fff"/>
<rect x="82" y="420" width="1" height="1" fill="#000"/>
<rect x="80" y="465" width="3" height="3" fill="#fff"/>
<rect x="82" y="465" width="1" height="1" fill="#000"/>
<rect x="80" y="471" width="3" height="3" fill="#fff"/>
<rect x="80" y="473" width="1" height="1" fill="#000"/>
<rect x="86" y="414" width="3" height="3" fill="#fff"/>
<rect x="88" y="416" width="1" height="1" fill="#000"/>
<rect x="86" y="420" width="3" height="3" fill="#fff"/>
<rect x="86" y="420" width="1" height="1" fill="#000"/>
<rect x="86" y="465" width="3" height="3" fill="#fff"/>
<rect x="86" y="465" width="1" height="1" fill="#000"/>
<rect x="86" y="471" width="3" height="3" fill="#fff"/>
<rect x="88" y="471" width="1" height="1" fill="#000"/>
<rect x="91" y="414" width="3" height="3" fill="#fff"/>
<rect x="91" y="416" width="1" height="1" fill="#000"/>
<rect x="91" y="420" width="3" height="3" fill="#fff"/>
<rect x="93" y="422" width="1" height="1" fill="#000"/>
<rect x="91" y="465" width="3" height="3" fill="#fff"/>
<rect x="93" y="467" width="1" height="1" fill="#000"/>
<rect x="91" y="471" width="3" height="3" fill="#fff"/>
<rect x="91" y="471" width="1" height="1" fill="#000"/>
<rect x="97" y="414" width="3" height="3" fill="#fff"/>
<rect x="99" y="414" width="1" height="1" fill="#000"/>
<rect x="97" y="420" width="3" height="3" fill="#fff"/>
<rect x="97" y="422" width="1" height="1" fill="#000"/>
<rect x="97" y="465" width="3" height="3" fill="#fff"/>
<rect x="97" y="467" width="1" height="1" fill="#000"/>
<rect x="97" y="471" width="3" height="3" fill="#fff"/>
<rect x="99" y="473" width="1" height="1" fill="#000"/>
<rect x="103" y="414" width="3" height="3" fill="#fff"/>
<rect x="103" y="414" width="1" height="1" fill="#000"/>
<rect x="103" y="420" width="3" height="3" fill="#fff"/>
<rect x="105" y="420" width="1" height="1" fill="#000"/>
<rect x="103" y="465" width="3" height="3" fill="#fff"/>
<rect x="105" y="465" width="1" height="1" fill="#000"/>
<rect x="103" y="471" width="3" height="3" fill="#fff"/>
<rect x="103" y="473" width="1" height="1" fill="#000"/>
<rect x="108" y="414" width="3" height="3" fill="#fff"/>
<rect x="110" y="416" width="1" height="1" fill="#000"/>
<rect x="108" y="420" width="3" height="3" fill="#fff"/>
<rect x="108" y="420" width="1" height="1" fill="#000"/>
<rect x="108" y="425" width="3" height="3" fill="#fff"/>
<rect x="110" y="425" width="1" height="1" fill="#000"/>
<rect x="108" y="431" width="3" height="3" fill="#fff"/>
<rect x="108" y="433" width="1" height="1" fill="#000"/>
<rect x="108" y="437" width="3" height="3" fill="#fff"/>
<rect x="110" y="439" width="1" height="1" fill="#000"/>
<rect x="108" y="442" width="3" height="3" fill="#fff"/>
<rect x="108" y="442" width="1" height="1" fill="#000"/>
<rect x="108" y="448" width="3" height="3" fill="#fff"/>
<rect x="110" y="448" width="1" height="1" fill="#000"/>
<rect x="108" y="454" width="3" height="3" fill="#fff"/>
<rect x="108" y="456" width="1" height="1" fill="#000"/>
<rect x="108" y="459" width="3" height="3" fill="#fff"/>
<rect x="110" y="461" width="1" height="1" fill="#000"/>
<rect x="108" y="465" width="3" height="3" fill="#fff"/>
<rect x="108" y="465" width="1" height="1" fill="#000"/>
<rect x="108" y="471" width="3" height="3" fill="#fff"/>
<rect x="110" y="471" width="1" height="1" fill="#000"/>
<rect x="114" y="414" width="3" height="3" fill="#fff"/>
<rect x="114" y="416" width="1" height="1" fill="#000"/>
<rect x="114" y="420" width="3" height="3" fill="#fff"/>
<rect x="116" y="422" width="1" height="1" fill="#000"/>
<rect x="114" y="425" width="3" height="3" fill="#fff"/>
<rect x="114" y="425" width="1" height="1" fill="#000"/>
<rect x="114" y="431" width="3" height="3" fill="#fff"/>
<rect x="116" y="431" width="1" height="1" fill="#000"/>
<rect x="114" y="437" width="3" height="3" fill="#fff"/>
<rect x="114" y="439" width="1" height="1" fill="#000"/>
<rect x="114" y="442" width="3" height="3" fill="#fff"/>
<rect x="116" y="444" width="1" height="1" fill="#000"/>
<rect x="114" y="448" width="3" height="3" fill="#fff"/>
<rect x="114" y="448" width="1" height="1" fill="#000"/>
<rect x="114" y="454" width="3" height="3" fill="#fff"/>
<rect x="116" y="454" width="1" height="1" fill="#000"/>
<rect x="114" y="459" width="3" height="3" fill="#fff"/>
<rect x="114" y="461" width="1" height="1" fill="#000"/>
<rect x="114" y="465" width="3" height="3" fill="#fff"/>
<rect x="116" y="467" width="1" height="1" fill="#000"/>
<rect x="114" y="471" width="3" height="3" fill="#fff"/>
<rect x="114" y="471" width="1" height="1" fill="#000"/>
<rect x="71" y="435" width="32" height="18" fill="#000"/>
<rect x="74" y="438" width="26" height="12" fill="#fff"/>
<rect x="71" y="435" width="2" height="1" fill="#fff"/>
<rect x="71" y="435" width="1" height="2" fill="#fff"/>
<rect x="101" y="435" width="2" height="1" fill="#fff"/>
<rect x="102" y="435" width="1" height="2" fill="#fff"/>
<rect x="71" y="452" width="2" height="1" fill="#fff"/>
<rect x="71" y="451" width="1" height="2" fill="#fff"/>
<rect x="101" y="452" width="2" height="1" fill="#fff"/>
<rect x="102" y="451" width="1" height="2" fill="#fff"/>
<rect x="74" y="438" width="1" height="1" fill="#000"/>
<rect x="99" y="438" width="1" height="1" fill="#000"/>
<rect x="74" y="449" width="1" height="1" fill="#000"/>
<rect x="99" y="449" width="1" height="1" fill="#000"/>
<rect x="206" y="390" width="13" height="1" fill="#000"/>
<rect x="206" y="508" width="13" height="1" fill="#000"/>
<rect x="206" y="390" width="1" height="119" fill="#000"/>
<rect x="218" y="390" width="1" height="119" fill="#000"/>
<rect x="208" y="392" width="4" height="4" fill="#000"/>
<rect x="213" y="392" width="4" height="4" fill="#000"/>
<rect x="208" y="398" width="4" height="4" fill="#000"/>
<rect x="213" y="398" width="4" height="4" fill="#000"/>
<rect x="208" y="404" width="4" height="4" fill="#000"/>
<rect x="213" y="404" width="4" height="4" fill="#000"/>
<rect x="208" y="409" width="4" height="4" fill="#000"/>
<rect x="213" y="409" width="4" height="4" fill="#000"/>
<rect x="208" y="415" width="4" height="4" fill="#000"/>
<rect x="213" y="415" width="4" height="4" fill="#000"/>
<rect x="208" y="421" width="4" height="4" fill="#000"/>
<rect x="213" y="421" width="4" height="4" fill="#000"/>
<rect x="208" y="427" width="4" height="4" fill="#000"/>
<rect x="213" y="427" width="4" height="4" fill="#000"/>
<rect x="208" y="433" width="4" height="4" fill="#000"/>
<rect x="213" y="433" width="4" height="4" fill="#000"/>
<rect x="208" y="439" width="4" height="4" fill="#000"/>
<rect x="213" y="439" width="4" height="4" fill="#000"/>
<rect x="208" y="444" width="4" height="4" fill="#000"/>
<rect x="213" y="444" width="4" height="4" fill="#000"/>
<rect x="208" y="450" width="4" height="4" fill="#000"/>
<rect x="213" y="450" width="4" height="4" fill="#000"/>
<rect x="208" y="456" width="4" height="4" fill="#000"/>
<rect x="213" y="456" width="4" height="4" fill="#000"/>
<rect x="208" y="462" width="4" height="4" fill="#000"/>
<rect x="213" y="462" width="4" height="4" fill="#000"/>
<rect x="208" y="468" width="4" height="4" fill="#000"/>
<rect x="213" y="468" width="4" height="4" fill="#000"/>
<rect x="208" y="474" width="4" height="4" fill="#000"/>
<rect x="213" y="474" width="4" height="4" fill="#000"/>
<rect x="208" y="480" width="4" height="4" fill="#000"/>
<rect x="213" y="480" width="4" height="4" fill="#000"/>
<rect x="208" y="485" width="4" height="4" fill="#000"/>
<rect x="213" y="485" width="4" height="4" fill="#000"/>
<rect x="208" y="491" width="4" height="4" fill="#000"/>
<rect x="213" y="491" width="4" height="4" fill="#000"/>
<rect x="208" y="497" width="4" height="4" fill="#000"/>
<rect x="213" y="497" width="4" height="4" fill="#000"/>
<rect x="208" y="503" width="4" height="4" fill="#000"/>
<rect x="213" y="503" width="4" height="4" fill="#000"/>
<rect x="214" y="504" width="2" height="2" fill="#fff"/>
<rect x="166" y="417" width="26" height="19" fill="#000"/>
<rect x="169" y="419" width="21" height="14" fill="#fff"/>
<rect x="166" y="417" width="2" height="1" fill="#fff"/>
<rect x="166" y="417" width="1" height="2" fill="#fff"/>
<rect x="190" y="417" width="2" height="1" fill="#fff"/>
<rect x="191" y="417" width="1" height="2" fill="#fff"/>
<rect x="166" y="435" width="2" height="1" fill="#fff"/>
<rect x="166" y="434" width="1" height="2" fill="#fff"/>
<rect x="190" y="435" width="2" height="1" fill="#fff"/>
<rect x="191" y="434" width="1" height="2" fill="#fff"/>
<rect x="169" y="419" width="1" height="1" fill="#000"/>
<rect x="189" y="419" width="1" height="1" fill="#000"/>
<rect x="169" y="432" width="1" height="1" fill="#000"/>
<rect x="189" y="432" width="1" height="1" fill="#000"/>
<rect x="190" y="423" width="5" height="1" fill="#000"/>
<rect x="190" y="424" width="13" height="1" fill="#000"/>
<rect x="190" y="425" width="4" height="1" fill="#fff"/>
<rect x="194" y="425" width="12" height="1" fill="#000"/>
<rect x="190" y="426" width="8" height="1" fill="#fff"/>
<rect x="198" y="426" width="8" height="1" fill="#000"/>
<rect x="190" y="427" width="3" height="1" fill="#fff"/>
<rect x="193" y="427" width="13" height="1" fill="#000"/>
<rect x="190" y="428" width="13" height="1" fill="#000"/>
<rect x="190" y="429" width="5" height="1" fill="#000"/>
<rect x="231" y="408" width="13" height="1" fill="#000"/>
<rect x="231" y="508" width="13" height="1" fill="#000"/>
<rect x="231" y="408" width="1" height="101" fill="#000"/>
<rect x="243" y="408" width="1" height="101" fill="#000"/>
<rect x="232" y="410" width="5" height="98" fill="#000"/>
<rect x="238" y="410" width="4" height="4" fill="#000"/>
<rect x="238" y="416" width="4" height="4" fill="#000"/>
<rect x="232" y="415" width="11" height="1" fill="#fff"/>
<rect x="232" y="414" width="11" height="1" fill="#fff"/>
<rect x="238" y="422" width="4" height="4" fill="#000"/>
<rect x="232" y="421" width="11" height="1" fill="#fff"/>
<rect x="232" y="420" width="11" height="1" fill="#fff"/>
<rect x="238" y="427" width="4" height="4" fill="#000"/>
<rect x="232" y="426" width="11" height="1" fill="#fff"/>
<rect x="238" y="433" width="4" height="4" fill="#000"/>
<rect x="232" y="432" width="11" height="1" fill="#fff"/>
<rect x="232" y="431" width="11" height="1" fill="#fff"/>
<rect x="238" y="439" width="4" height="4" fill="#000"/>
<rect x="232" y="438" width="11" height="1" fill="#fff"/>
<rect x="232" y="437" width="11" height="1" fill="#fff"/>
<rect x="238" y="445" width="4" height="4" fill="#000"/>
<rect x="232" y="444" width="11" height="1" fill="#fff"/>
<rect x="232" y="443" width="11" height="1" fill="#fff"/>
<rect x="238" y="451" width="4" height="4" fill="#000"/>
<rect x="232" y="450" width="11" height="1" fill="#fff"/>
<rect x="232" y="449" width="11" height="1" fill="#fff"/>
<rect x="238" y="457" width="4" height="4" fill="#000"/>
<rect x="232" y="456" width="11" height="1" fill="#fff"/>
<rect x="232" y="455" width="11" height="1" fill="#fff"/>
<rect x="238" y="462" width="4" height="4" fill="#000"/>
<rect x="232" y="461" width="11" height="1" fill="#fff"/>
<rect x="238" y="468" width="4" height="4" fill="#000"/>
<rect x="232" y="467" width="11" height="1" fill="#fff"/>
<rect x="232" y="466" width="11" height="1" fill="#fff"/>
<rect x="238" y="474" width="4" height="4" fill="#000"/>
<rect x="232" y="473" width="11" height="1" fill="#fff"/>
<rect x="232" y="472" width="11" height="1" fill="#fff"/>
<rect x="238" y="480" width="4" height="4" fill="#000"/>
<rect x="232" y="479" width="11" height="1" fill="#fff"/>
<rect x="238" y="486" width="4" height="4" fill="#000"/>
<rect x="232" y="485" width="11" height="1" fill="#fff"/>
<rect x="238" y="492" width="4" height="4" fill="#000"/>
<rect x="232" y="491" width="11" height="1" fill="#fff"/>
<rect x="238" y="498" width="4" height="4" fill="#000"/>
<rect x="232" y="497" width="11" height="1" fill="#fff"/>
<rect x="238" y="503" width="4" height="4" fill="#000"/>
<rect x="232" y="502" width="11" height="1" fill="#fff"/>
<rect x="237" y="409" width="1" height="99" fill="#fff"/>
<rect x="238" y="507" width="4" height="1" fill="#000"/>
<rect x="239" y="504" width="2" height="3" fill="#fff"/>
<rect x="258" y="446" width="36" height="19" fill="#000"/>
<rect x="260" y="448" width="31" height="14" fill="#fff"/>
<rect x="258" y="446" width="2" height="1" fill="#fff"/>
<rect x="258" y="446" width="1" height="2" fill="#fff"/>
<rect x="292" y="446" width="2" height="1" fill="#fff"/>
<rect x="293" y="446" width="1" height="2" fill="#fff"/>
<rect x="258" y="464" width="2" height="1" fill="#fff"/>
<rect x="258" y="463" width="1" height="2" fill="#fff"/>
<rect x="292" y="464" width="2" height="1" fill="#fff"/>
<rect x="293" y="463" width="1" height="2" fill="#fff"/>
<rect x="260" y="448" width="1" height="1" fill="#000"/>
<rect x="290" y="448" width="1" height="1" fill="#000"/>
<rect x="260" y="461" width="1" height="1" fill="#000"/>
<rect x="290" y="461" width="1" height="1" fill="#000"/>
<rect x="255" y="452" width="5" height="1" fill="#000"/>
<rect x="248" y="453" width="12" height="1" fill="#000"/>
<rect x="254" y="454" width="6" height="1" fill="#fff"/>
<rect x="244" y="454" width="10" height="1" fill="#000"/>
<rect x="254" y="455" width="6" height="1" fill="#fff"/>
<rect x="244" y="455" width="10" height="1" fill="#000"/>
<rect x="258" y="456" width="2" height="1" fill="#fff"/>
<rect x="247" y="456" width="11" height="1" fill="#000"/>
<rect x="252" y="457" width="8" height="1" fill="#000"/>
<rect x="256" y="458" width="4" height="1" fill="#000"/>
<rect x="168" y="455" width="26" height="19" fill="#000"/>
<rect x="170" y="458" width="22" height="14" fill="#fff"/>
<rect x="168" y="455" width="2" height="1" fill="#fff"/>
<rect x="168" y="455" width="1" height="2" fill="#fff"/>
<rect x="192" y="455" width="2" height="1" fill="#fff"/>
<rect x="193" y="455" width="1" height="2" fill="#fff"/>
<rect x="168" y="473" width="2" height="1" fill="#fff"/>
<rect x="168" y="472" width="1" height="2" fill="#fff"/>
<rect x="192" y="473" width="2" height="1" fill="#fff"/>
<rect x="193" y="472" width="1" height="2" fill="#fff"/>
<rect x="170" y="458" width="1" height="1" fill="#000"/>
<rect x="191" y="458" width="1" height="1" fill="#000"/>
<rect x="170" y="471" width="1" height="1" fill="#000"/>
<rect x="191" y="471" width="1" height="1" fill="#000"/>
<rect x="177" y="472" width="1" height="5" fill="#000"/>
<rect x="178" y="472" width="1" height="12" fill="#000"/>
<rect x="179" y="472" width="1" height="4" fill="#fff"/>
<rect x="179" y="476" width="1" height="13" fill="#000"/>
<rect x="180" y="472" width="1" height="8" fill="#fff"/>
<rect x="180" y="480" width="1" height="9" fill="#000"/>
<rect x="181" y="472" width="1" height="3" fill="#fff"/>
<rect x="181" y="475" width="1" height="12" fill="#000"/>
<rect x="182" y="472" width="1" height="12" fill="#000"/>
<rect x="183" y="472" width="1" height="5" fill="#000"/>
<rect x="177" y="489" width="7" height="1" fill="#000"/>
<rect x="177" y="508" width="7" height="1" fill="#000"/>
<rect x="177" y="489" width="1" height="20" fill="#000"/>
<rect x="183" y="489" width="1" height="20" fill="#000"/>
<rect x="178" y="490" width="1" height="1" fill="#000"/>
<rect x="178" y="491" width="4" height="5" fill="#000"/>
<rect x="179" y="492" width="2" height="3" fill="#fff"/>
<rect x="178" y="497" width="4" height="4" fill="#000"/>
<rect x="178" y="503" width="4" height="4" fill="#000"/>
<rect x="115" y="487" width="36" height="18" fill="#000"/>
<rect x="118" y="489" width="31" height="14" fill="#fff"/>
<rect x="115" y="487" width="2" height="1" fill="#fff"/>
<rect x="115" y="487" width="1" height="2" fill="#fff"/>
<rect x="149" y="487" width="2" height="1" fill="#fff"/>
<rect x="150" y="487" width="1" height="2" fill="#fff"/>
<rect x="115" y="504" width="2" height="1" fill="#fff"/>
<rect x="115" y="503" width="1" height="2" fill="#fff"/>
<rect x="149" y="504" width="2" height="1" fill="#fff"/>
<rect x="150" y="503" width="1" height="2" fill="#fff"/>
<rect x="118" y="489" width="1" height="1" fill="#000"/>
<rect x="148" y="489" width="1" height="1" fill="#000"/>
<rect x="118" y="502" width="1" height="1" fill="#000"/>
<rect x="148" y="502" width="1" height="1" fill="#000"/>
<rect x="149" y="493" width="5" height="1" fill="#000"/>
<rect x="149" y="494" width="12" height="1" fill="#000"/>
<rect x="149" y="495" width="6" height="1" fill="#fff"/>
<rect x="155" y="495" width="10" height="1" fill="#000"/>
<rect x="149" y="496" width="6" height="1" fill="#fff"/>
<rect x="155" y="496" width="10" height="1" fill="#000"/>
<rect x="149" y="497" width="2" height="1" fill="#fff"/>
<rect x="151" y="497" width="11" height="1" fill="#000"/>
<rect x="149" y="498" width="8" height="1" fill="#000"/>
<rect x="149" y="499" width="4" height="1" fill="#000"/>
<rect x="165" y="483" width="7" height="26" fill="#000"/>
<rect x="166" y="484" width="5" height="1" fill="#fff"/>
<rect x="167" y="486" width="3" height="2" fill="#fff"/>
<rect x="166" y="489" width="5" height="1" fill="#fff"/>
<rect x="166" y="495" width="5" height="1" fill="#fff"/>
<rect x="166" y="501" width="5" height="1" fill="#fff"/>
<rect x="166" y="506" width="5" height="2" fill="#fff"/>
<rect x="347" y="484" width="112" height="1" fill="#000"/>
<rect x="347" y="508" width="112" height="1" fill="#000"/>
<rect x="347" y="484" width="1" height="25" fill="#000"/>
<rect x="458" y="484" width="1" height="25" fill="#000"/>
<rect x="348" y="492" width="110" height="1" fill="#000"/>
<rect x="350" y="487" width="4" height="1" fill="#000"/>
<rect x="349" y="488" width="7" height="1" fill="#000"/>
<rect x="349" y="489" width="1" height="1" fill="#000"/>
<rect x="355" y="489" width="1" height="1" fill="#000"/>
<rect x="349" y="490" width="7" height="1" fill="#000"/>
<rect x="350" y="491" width="5" height="1" fill="#000"/>
<rect x="348" y="495" width="8" height="2" fill="#000"/>
<rect x="359" y="487" width="4" height="1" fill="#000"/>
<rect x="358" y="488" width="7" height="1" fill="#000"/>
<rect x="358" y="489" width="1" height="1" fill="#000"/>
<rect x="364" y="489" width="1" height="1" fill="#000"/>
<rect x="358" y="490" width="7" height="1" fill="#000"/>
<rect x="359" y="491" width="5" height="1" fill="#000"/>
<rect x="357" y="495" width="8" height="2" fill="#000"/>
<rect x="368" y="487" width="4" height="1" fill="#000"/>
<rect x="367" y="488" width="7" height="1" fill="#000"/>
<rect x="367" y="489" width="1" height="1" fill="#000"/>
<rect x="373" y="489" width="1" height="1" fill="#000"/>
<rect x="367" y="490" width="7" height="1" fill="#000"/>
<rect x="368" y="491" width="5" height="1" fill="#000"/>
<rect x="366" y="495" width="8" height="2" fill="#000"/>
<rect x="377" y="487" width="4" height="1" fill="#000"/>
<rect x="376" y="488" width="7" height="1" fill="#000"/>
<rect x="376" y="489" width="1" height="1" fill="#000"/>
<rect x="382" y="489" width="1" height="1" fill="#000"/>
<rect x="376" y="490" width="7" height="1" fill="#000"/>
<rect x="377" y="491" width="5" height="1" fill="#000"/>
<rect x="375" y="495" width="8" height="2" fill="#000"/>
<rect x="387" y="487" width="4" height="1" fill="#000"/>
<rect x="386" y="488" width="7" height="1" fill="#000"/>
<rect x="386" y="489" width="1" height="1" fill="#000"/>
<rect x="392" y="489" width="1" height="1" fill="#000"/>
<rect x="386" y="490" width="7" height="1" fill="#000"/>
<rect x="387" y="491" width="5" height="1" fill="#000"/>
<rect x="385" y="495" width="8" height="2" fill="#000"/>
<rect x="396" y="487" width="4" height="1" fill="#000"/>
<rect x="395" y="488" width="7" height="1" fill="#000"/>
<rect x="395" y="489" width="1" height="1" fill="#000"/>
<rect x="401" y="489" width="1" height="1" fill="#000"/>
<rect x="395" y="490" width="7" height="1" fill="#000"/>
<rect x="396" y="491" width="5" height="1" fill="#000"/>
<rect x="394" y="495" width="8" height="2" fill="#000"/>
<rect x="405" y="487" width="4" height="1" fill="#000"/>
<rect x="404" y="488" width="7" height="1" fill="#000"/>
<rect x="404" y="489" width="1" height="1" fill="#000"/>
<rect x="410" y="489" width="1" height="1" fill="#000"/>
<rect x="404" y="490" width="7" height="1" fill="#000"/>
<rect x="405" y="491" width="5" height="1" fill="#000"/>
<rect x="403" y="495" width="8" height="2" fill="#000"/>
<rect x="414" y="487" width="4" height="1" fill="#000"/>
<rect x="413" y="488" width="7" height="1" fill="#000"/>
<rect x="413" y="489" width="1" height="1" fill="#000"/>
<rect x="419" y="489" width="1" height="1" fill="#000"/>
<rect x="413" y="490" width="7" height="1" fill="#000"/>
<rect x="414" y="491" width="5" height="1" fill="#000"/>
<rect x="412" y="495" width="8" height="2" fill="#000"/>
<rect x="423" y="487" width="4" height="1" fill="#000"/>
<rect x="422" y="488" width="7" height="1" fill="#000"/>
<rect x="422" y="489" width="1" height="1" fill="#000"/>
<rect x="428" y="489" width="1" height="1" fill="#000"/>
<rect x="422" y="490" width="7" height="1" fill="#000"/>
<rect x="423" y="491" width="5" height="1" fill="#000"/>
<rect x="421" y="495" width="8" height="2" fill="#000"/>
<rect x="433" y="487" width="4" height="1" fill="#000"/>
<rect x="432" y="488" width="7" height="1" fill="#000"/>
<rect x="432" y="489" width="1" height="1" fill="#000"/>
<rect x="438" y="489" width="1" height="1" fill="#000"/>
<rect x="432" y="490" width="7" height="1" fill="#000"/>
<rect x="433" y="491" width="5" height="1" fill="#000"/>
<rect x="431" y="495" width="8" height="2" fill="#000"/>
<rect x="442" y="487" width="4" height="1" fill="#000"/>
<rect x="441" y="488" width="7" height="1" fill="#000"/>
<rect x="441" y="489" width="1" height="1" fill="#000"/>
<rect x="447" y="489" width="1" height="1" fill="#000"/>
<rect x="441" y="490" width="7" height="1" fill="#000"/>
<rect x="442" y="491" width="5" height="1" fill="#000"/>
<rect x="440" y="495" width="8" height="2" fill="#000"/>
<rect x="452" y="487" width="4" height="1" fill="#000"/>
<rect x="451" y="488" width="7" height="1" fill="#000"/>
<rect x="451" y="489" width="1" height="1" fill="#000"/>
<rect x="457" y="489" width="1" height="1" fill="#000"/>
<rect x="451" y="490" width="7" height="1" fill="#000"/>
<rect x="452" y="491" width="5" height="1" fill="#000"/>
<rect x="450" y="495" width="8" height="2" fill="#000"/>
<rect x="352" y="498" width="8" height="1" fill="#000"/>
<rect x="352" y="505" width="8" height="1" fill="#000"/>
<rect x="352" y="498" width="1" height="8" fill="#000"/>
<rect x="359" y="498" width="1" height="8" fill="#000"/>
<rect x="362" y="498" width="8" height="1" fill="#000"/>
<rect x="362" y="505" width="8" height="1" fill="#000"/>
<rect x="362" y="498" width="1" height="8" fill="#000"/>
<rect x="369" y="498" width="1" height="8" fill="#000"/>
<rect x="371" y="498" width="8" height="1" fill="#000"/>
<rect x="371" y="505" width="8" height="1" fill="#000"/>
<rect x="371" y="498" width="1" height="8" fill="#000"/>
<rect x="378" y="498" width="1" height="8" fill="#000"/>
<rect x="381" y="498" width="8" height="1" fill="#000"/>
<rect x="381" y="505" width="8" height="1" fill="#000"/>
<rect x="381" y="498" width="1" height="8" fill="#000"/>
<rect x="388" y="498" width="1" height="8" fill="#000"/>
<rect x="390" y="498" width="8" height="1" fill="#000"/>
<rect x="390" y="505" width="8" height="1" fill="#000"/>
<rect x="390" y="498" width="1" height="8" fill="#000"/>
<rect x="397" y="498" width="1" height="8" fill="#000"/>
<rect x="399" y="498" width="8" height="1" fill="#000"/>
<rect x="399" y="505" width="8" height="1" fill="#000"/>
<rect x="399" y="498" width="1" height="8" fill="#000"/>
<rect x="406" y="498" width="1" height="8" fill="#000"/>
<rect x="408" y="498" width="8" height="1" fill="#000"/>
<rect x="408" y="505" width="8" height="1" fill="#000"/>
<rect x="408" y="498" width="1" height="8" fill="#000"/>
<rect x="415" y="498" width="1" height="8" fill="#000"/>
<rect x="417" y="498" width="8" height="1" fill="#000"/>
<rect x="417" y="505" width="8" height="1" fill="#000"/>
<rect x="417" y="498" width="1" height="8" fill="#000"/>
<rect x="424" y="498" width="1" height="8" fill="#000"/>
<rect x="426" y="498" width="8" height="1" fill="#000"/>
<rect x="426" y="505" width="8" height="1" fill="#000"/>
<rect x="426" y="498" width="1" height="8" fill="#000"/>
<rect x="433" y="498" width="1" height="8" fill="#000"/>
<rect x="437" y="498" width="8" height="1" fill="#000"/>
<rect x="437" y="505" width="8" height="1" fill="#000"/>
<rect x="437" y="498" width="1" height="8" fill="#000"/>
<rect x="444" y="498" width="1" height="8" fill="#000"/>
<rect x="446" y="498" width="8" height="1" fill="#000"/>
<rect x="446" y="505" width="8" height="1" fill="#000"/>
<rect x="446" y="498" width="1" height="8" fill="#000"/>
<rect x="453" y="498" width="1" height="8" fill="#000"/>
<rect x="347" y="499" width="3" height="1" fill="#000"/>
<rect x="347" y="504" width="3" height="1" fill="#000"/>
<rect x="347" y="499" width="1" height="6" fill="#000"/>
<rect x="349" y="499" width="1" height="6" fill="#000"/>
<rect x="455" y="499" width="4" height="1" fill="#000"/>
<rect x="455" y="504" width="4" height="1" fill="#000"/>
<rect x="455" y="499" width="1" height="6" fill="#000"/>
<rect x="458" y="499" width="1" height="6" fill="#000"/>
<polygon points="265,237 269,237 273,241 269,241 269,245 265,241" fill="#000"/>
<polygon points="318,237 314,237 310,241 314,241 314,245 319,241 319,237" fill="#000"/>
<polygon points="265,291 269,291 273,286 269,286 269,282 264,287 264,291" fill="#000"/>
<polygon points="319,291 315,291 310,286 314,286 314,282 319,287" fill="#000"/>
<defs><filter id="th" x="0" y="0" width="647" height="519" filterUnits="userSpaceOnUse" color-interpolation-filters="sRGB"><feComponentTransfer><feFuncA type="discrete" tableValues="0 0 1 1 1"/></feComponentTransfer></filter></defs>
<g filter="url(#th)">
<text transform="translate(166.20,84.00) scale(0.72,1)" font-size="14.5px" textLength="63.89" lengthAdjust="spacing" text-rendering="geometricPrecision">BANK 1</text>
<text transform="translate(166.20,117.00) scale(0.72,1)" font-size="14.5px" textLength="65.28" lengthAdjust="spacing" text-rendering="geometricPrecision">BANK 0</text>
<text transform="translate(9.20,169.00) scale(0.72,1)" font-size="14.5px" textLength="30.56" lengthAdjust="spacing" text-rendering="geometricPrecision">P13</text>
<text transform="translate(9.20,213.00) scale(0.72,1)" font-size="14.5px" textLength="30.56" lengthAdjust="spacing" text-rendering="geometricPrecision">P12</text>
<text transform="translate(8.20,276.00) scale(0.72,1)" font-size="14.5px" textLength="29.17" lengthAdjust="spacing" text-rendering="geometricPrecision">P11</text>
<text transform="translate(380.20,92.00) scale(0.72,1)" font-size="14.5px" textLength="20.83" lengthAdjust="spacing" text-rendering="geometricPrecision">P5</text>
<text transform="translate(489.20,34.00) scale(0.72,1)" font-size="13.1px" textLength="58.33" lengthAdjust="spacing" text-rendering="geometricPrecision">MH2731</text>
<text transform="translate(614.20,59.00) scale(0.72,1)" font-size="14.5px" textLength="19.44" lengthAdjust="spacing" text-rendering="geometricPrecision">J6</text>
<text transform="translate(612.20,270.00) scale(0.72,1)" font-size="14.5px" textLength="19.44" lengthAdjust="spacing" text-rendering="geometricPrecision">J4</text>
<text transform="translate(613.20,353.00) scale(0.72,1)" font-size="14.5px" textLength="19.44" lengthAdjust="spacing" text-rendering="geometricPrecision">J3</text>
<text transform="translate(613.20,164.00) scale(0.72,1)" font-size="14.5px" textLength="19.44" lengthAdjust="spacing" text-rendering="geometricPrecision">J5</text>
<text transform="translate(602.20,424.00) scale(0.72,1)" font-size="14.5px" textLength="19.44" lengthAdjust="spacing" text-rendering="geometricPrecision">J2</text>
<text transform="translate(278.20,269.00) scale(0.72,1)" font-size="14.5px" textLength="34.72" lengthAdjust="spacing" text-rendering="geometricPrecision">CPU</text>
<text transform="translate(439.20,253.00) scale(0.72,1)" font-size="14.5px" textLength="40.28" lengthAdjust="spacing" text-rendering="geometricPrecision">BIOS</text>
<text transform="translate(439.20,298.00) scale(0.72,1)" font-size="14.5px" textLength="40.28" lengthAdjust="spacing" text-rendering="geometricPrecision">BIOS</text>
<text transform="translate(367.20,335.00) scale(0.72,1)" font-size="14.5px" textLength="31.94" lengthAdjust="spacing" text-rendering="geometricPrecision">SL1</text>
<text transform="translate(354.20,367.00) scale(0.72,1)" font-size="14.5px" textLength="18.06" lengthAdjust="spacing" text-rendering="geometricPrecision">P1</text>
<text transform="translate(74.20,449.00) scale(0.72,1)" font-size="14.5px" textLength="34.72" lengthAdjust="spacing" text-rendering="geometricPrecision">NPU</text>
<text transform="translate(171.20,431.00) scale(0.72,1)" font-size="14.5px" textLength="19.44" lengthAdjust="spacing" text-rendering="geometricPrecision">J9</text>
<text transform="translate(264.20,460.00) scale(0.72,1)" font-size="14.5px" textLength="30.56" lengthAdjust="spacing" text-rendering="geometricPrecision">J10</text>
<text transform="translate(173.20,469.00) scale(0.72,1)" font-size="14.5px" textLength="18.06" lengthAdjust="spacing" text-rendering="geometricPrecision">P9</text>
<text transform="translate(120.20,500.00) scale(0.72,1)" font-size="14.5px" textLength="30.56" lengthAdjust="spacing" text-rendering="geometricPrecision">P10</text>
</g>
</svg></body></html>
